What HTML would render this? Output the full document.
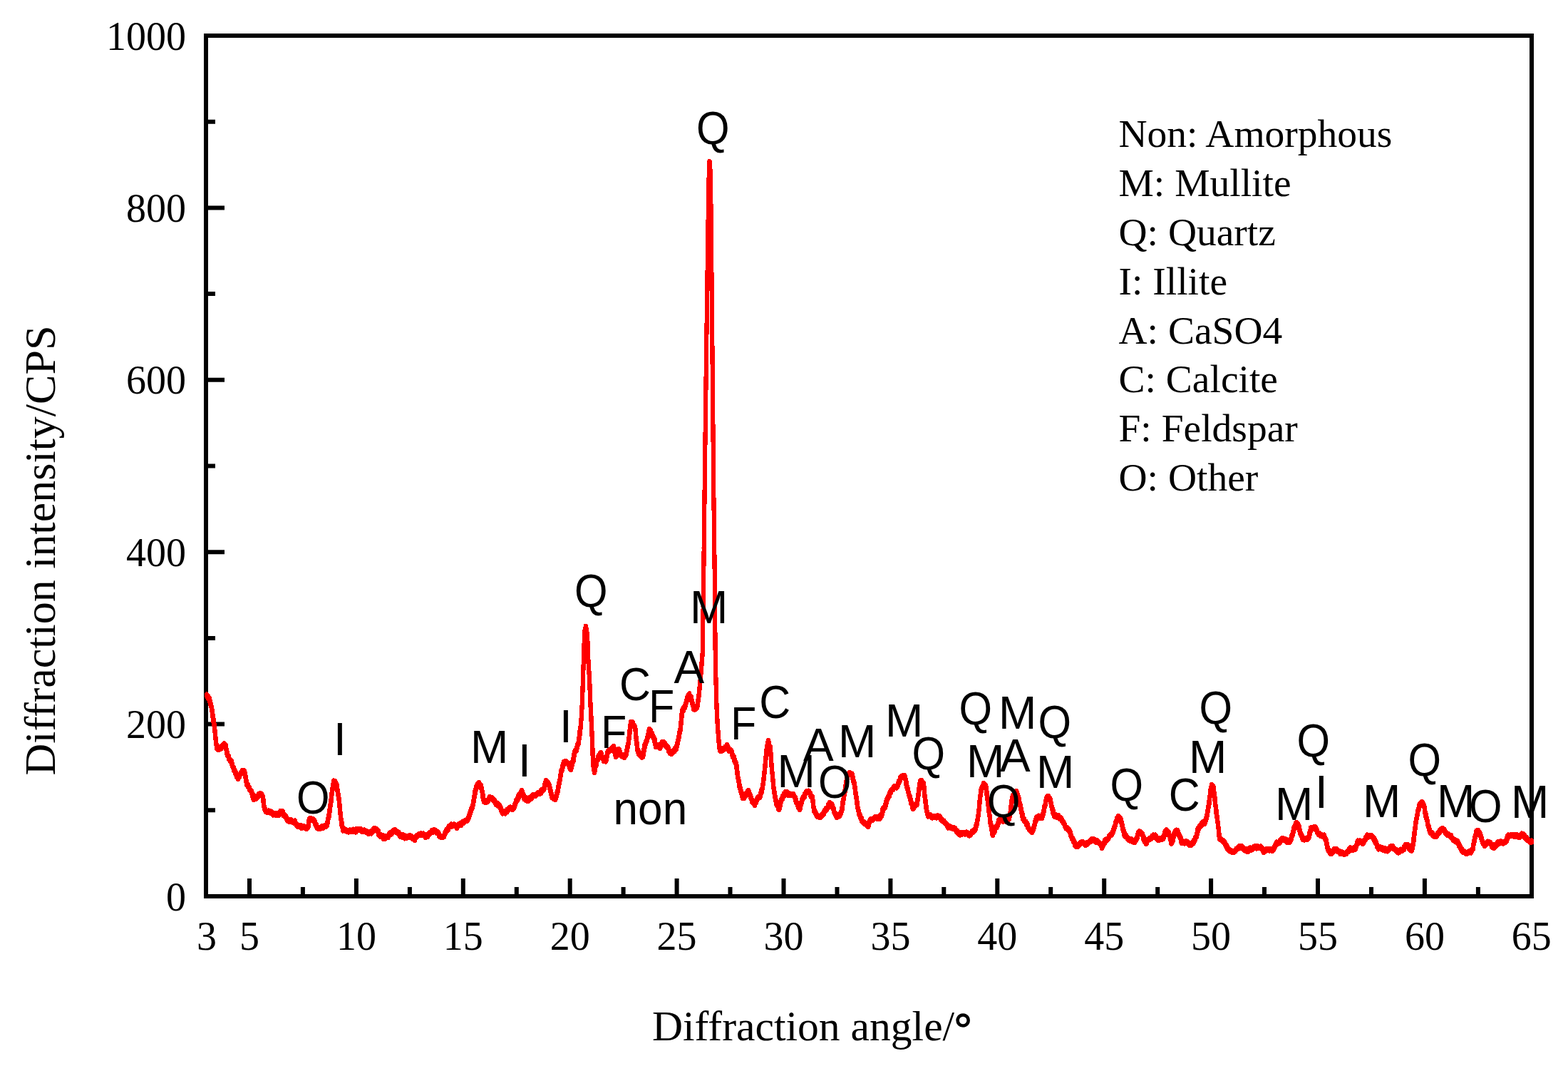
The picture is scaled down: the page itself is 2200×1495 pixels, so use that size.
<!DOCTYPE html>
<html><head><meta charset="utf-8"><title>XRD pattern</title>
<style>html,body{margin:0;padding:0;background:#fff;}svg{display:block;}</style></head>
<body><svg width="2200" height="1495" viewBox="0 0 2200 1495">
<rect x="0" y="0" width="2200" height="1495" fill="#fff"/>
<path d="M350.0 1257 V1232 M499.9 1257 V1232 M649.8 1257 V1232 M799.7 1257 V1232 M949.6 1257 V1232 M1099.5 1257 V1232 M1249.4 1257 V1232 M1399.3 1257 V1232 M1549.2 1257 V1232 M1699.1 1257 V1232 M1849.0 1257 V1232 M1998.9 1257 V1232 M424.9 1257 V1244 M574.9 1257 V1244 M724.8 1257 V1244 M874.6 1257 V1244 M1024.5 1257 V1244 M1174.5 1257 V1244 M1324.3 1257 V1244 M1474.2 1257 V1244 M1624.2 1257 V1244 M1774.0 1257 V1244 M1924.0 1257 V1244 M2073.9 1257 V1244 M289 1015.6 H315 M289 774.2 H315 M289 532.8 H315 M289 291.4 H315 M289 1136.3 H302 M289 894.9 H302 M289 653.5 H302 M289 412.1 H302 M289 170.7 H302" stroke="#000" stroke-width="6" fill="none"/>
<rect x="289" y="50" width="1860" height="1207" stroke="#000" stroke-width="6" fill="none"/>
<text x="290.0" y="1332" text-anchor="middle" style="font-family:'Liberation Serif','Times New Roman',serif;font-size:56px">3</text>
<text x="350.0" y="1332" text-anchor="middle" style="font-family:'Liberation Serif','Times New Roman',serif;font-size:56px">5</text>
<text x="499.9" y="1332" text-anchor="middle" style="font-family:'Liberation Serif','Times New Roman',serif;font-size:56px">10</text>
<text x="649.8" y="1332" text-anchor="middle" style="font-family:'Liberation Serif','Times New Roman',serif;font-size:56px">15</text>
<text x="799.7" y="1332" text-anchor="middle" style="font-family:'Liberation Serif','Times New Roman',serif;font-size:56px">20</text>
<text x="949.6" y="1332" text-anchor="middle" style="font-family:'Liberation Serif','Times New Roman',serif;font-size:56px">25</text>
<text x="1099.5" y="1332" text-anchor="middle" style="font-family:'Liberation Serif','Times New Roman',serif;font-size:56px">30</text>
<text x="1249.4" y="1332" text-anchor="middle" style="font-family:'Liberation Serif','Times New Roman',serif;font-size:56px">35</text>
<text x="1399.3" y="1332" text-anchor="middle" style="font-family:'Liberation Serif','Times New Roman',serif;font-size:56px">40</text>
<text x="1549.2" y="1332" text-anchor="middle" style="font-family:'Liberation Serif','Times New Roman',serif;font-size:56px">45</text>
<text x="1699.1" y="1332" text-anchor="middle" style="font-family:'Liberation Serif','Times New Roman',serif;font-size:56px">50</text>
<text x="1849.0" y="1332" text-anchor="middle" style="font-family:'Liberation Serif','Times New Roman',serif;font-size:56px">55</text>
<text x="1998.9" y="1332" text-anchor="middle" style="font-family:'Liberation Serif','Times New Roman',serif;font-size:56px">60</text>
<text x="2148.8" y="1332" text-anchor="middle" style="font-family:'Liberation Serif','Times New Roman',serif;font-size:56px">65</text>
<text x="261" y="1276.5" text-anchor="end" style="font-family:'Liberation Serif','Times New Roman',serif;font-size:56px">0</text>
<text x="261" y="1035.1" text-anchor="end" style="font-family:'Liberation Serif','Times New Roman',serif;font-size:56px">200</text>
<text x="261" y="793.7" text-anchor="end" style="font-family:'Liberation Serif','Times New Roman',serif;font-size:56px">400</text>
<text x="261" y="552.3" text-anchor="end" style="font-family:'Liberation Serif','Times New Roman',serif;font-size:56px">600</text>
<text x="261" y="310.9" text-anchor="end" style="font-family:'Liberation Serif','Times New Roman',serif;font-size:56px">800</text>
<text x="261" y="69.5" text-anchor="end" style="font-family:'Liberation Serif','Times New Roman',serif;font-size:56px">1000</text>
<text x="915" y="1459" style="font-family:'Liberation Serif','Times New Roman',serif;font-size:59.6px">Diffraction angle/<tspan dy="2.5" stroke="#000" stroke-width="1.6">°</tspan></text>
<text transform="translate(77 1087.5) rotate(-90)" x="0" y="0" style="font-family:'Liberation Serif','Times New Roman',serif;font-size:62px">Diffraction intensity/CPS</text>
<text x="1569.5" y="206.3" style="font-family:'Liberation Serif','Times New Roman',serif;font-size:55.5px">Non: Amorphous</text>
<text x="1569.5" y="275.1" style="font-family:'Liberation Serif','Times New Roman',serif;font-size:55.5px">M: Mullite</text>
<text x="1569.5" y="343.9" style="font-family:'Liberation Serif','Times New Roman',serif;font-size:55.5px">Q: Quartz</text>
<text x="1569.5" y="412.7" style="font-family:'Liberation Serif','Times New Roman',serif;font-size:55.5px">I: Illite</text>
<text x="1569.5" y="481.5" style="font-family:'Liberation Serif','Times New Roman',serif;font-size:55.5px">A: CaSO4</text>
<text x="1569.5" y="550.3" style="font-family:'Liberation Serif','Times New Roman',serif;font-size:55.5px">C: Calcite</text>
<text x="1569.5" y="619.1" style="font-family:'Liberation Serif','Times New Roman',serif;font-size:55.5px">F: Feldspar</text>
<text x="1569.5" y="687.9" style="font-family:'Liberation Serif','Times New Roman',serif;font-size:55.5px">O: Other</text>
<g fill="none" stroke="#f00" stroke-width="6.2" shape-rendering="crispEdges" stroke-linejoin="round" stroke-linecap="round"><path id="crv" d="M290.0 975.0 L291.0 976.3 L292.1 977.5 L292.2 979.3 L293.8 980.3 L294.0 982.0 L294.5 983.6 L295.1 985.1 L295.2 986.8 L295.9 988.3 L296.0 990.0 L296.7 991.5 L297.1 993.1 L297.3 994.8 L297.4 996.5 L298.0 998.0 L298.3 999.7 L298.3 1001.3 L298.4 1003.0 L298.6 1004.7 L298.9 1006.3 L299.0 1008.0 L299.5 1009.5 L299.3 1011.0 L299.9 1012.5 L300.2 1014.0 L300.4 1015.5 L300.6 1017.0 L300.6 1018.5 L301.0 1020.0 L301.1 1021.5 L301.2 1023.0 L301.4 1024.5 L301.5 1026.0 L301.7 1027.5 L301.9 1029.0 L302.0 1030.5 L302.0 1032.0 L302.2 1033.6 L302.5 1035.2 L302.6 1036.8 L302.8 1038.4 L303.1 1040.0 L303.1 1041.6 L303.3 1043.2 L303.7 1044.8 L303.8 1046.4 L304.0 1048.0 L304.9 1050.0 L307.0 1050.5 L308.0 1048.9 L310.4 1049.0 L311.0 1047.0 L312.1 1045.8 L313.8 1045.4 L314.6 1043.9 L315.4 1045.3 L316.8 1046.3 L317.0 1048.0 L317.2 1049.7 L317.6 1051.3 L317.8 1053.0 L318.4 1054.6 L318.5 1056.4 L319.0 1058.0 L319.7 1059.7 L320.7 1061.2 L321.0 1063.0 L321.6 1064.7 L323.0 1066.0 L323.5 1067.6 L325.1 1068.7 L325.0 1070.6 L326.0 1072.0 L326.1 1073.9 L326.7 1075.6 L327.7 1077.2 L328.0 1079.0 L328.4 1080.5 L329.8 1081.6 L329.8 1083.2 L330.8 1084.4 L331.0 1086.0 L332.3 1087.1 L332.1 1088.9 L333.7 1089.9 L334.0 1091.5 L334.6 1090.0 L336.0 1089.0 L335.7 1087.1 L337.0 1086.0 L338.1 1084.5 L339.6 1083.4 L340.0 1081.5 L341.3 1082.9 L343.0 1082.0 L343.4 1083.7 L343.8 1085.3 L343.8 1087.0 L344.1 1088.7 L344.9 1090.3 L345.0 1092.0 L345.3 1093.6 L345.5 1095.2 L345.6 1096.8 L345.8 1098.4 L346.0 1100.0 L347.8 1100.8 L348.1 1102.6 L349.0 1104.0 L349.9 1105.6 L350.3 1107.4 L351.7 1108.7 L353.0 1110.0 L353.3 1111.5 L353.7 1113.0 L354.7 1114.4 L354.4 1116.1 L354.9 1117.6 L355.3 1119.1 L356.0 1120.5 L357.9 1119.4 L360.0 1119.0 L360.6 1117.1 L362.7 1116.4 L363.1 1114.2 L365.0 1113.5 L366.5 1114.2 L367.5 1115.3 L368.3 1116.6 L369.0 1118.0 L369.3 1119.5 L369.3 1121.0 L369.5 1122.5 L369.5 1124.0 L369.8 1125.5 L369.7 1127.0 L369.8 1128.5 L370.0 1130.0 L370.7 1131.4 L371.1 1133.0 L371.6 1134.5 L372.0 1136.0 L373.3 1137.6 L374.8 1138.7 L377.0 1138.0 L378.5 1139.0 L380.6 1139.1 L382.1 1140.1 L383.0 1142.0 L385.1 1141.5 L387.0 1142.5 L388.3 1141.2 L390.0 1142.0 L391.9 1142.1 L392.5 1140.3 L393.2 1138.6 L395.0 1138.5 L396.8 1139.0 L397.0 1140.8 L397.2 1142.6 L399.0 1143.0 L399.5 1144.6 L400.9 1145.6 L401.6 1147.1 L402.7 1148.3 L403.0 1150.0 L404.5 1150.4 L405.9 1151.4 L407.6 1150.2 L409.0 1151.0 L410.5 1152.3 L412.0 1153.2 L414.0 1152.0 L414.4 1153.7 L415.1 1155.2 L415.9 1156.7 L417.0 1158.0 L418.5 1158.7 L420.2 1158.9 L422.0 1158.6 L423.0 1160.5 L424.9 1159.6 L427.0 1160.0 L428.7 1160.6 L430.3 1161.5 L432.0 1160.0 L432.5 1158.5 L432.8 1156.9 L433.1 1155.3 L433.1 1153.7 L433.3 1152.1 L433.6 1150.5 L434.0 1149.0 L435.8 1148.2 L437.3 1149.7 L439.0 1149.5 L441.0 1151.0 L441.6 1152.6 L442.0 1154.3 L442.5 1155.9 L443.8 1157.2 L444.0 1159.0 L445.1 1160.9 L447.0 1161.4 L449.0 1161.5 L450.6 1160.9 L452.1 1159.6 L454.0 1160.0 L455.8 1158.6 L458.0 1158.0 L459.0 1156.7 L458.9 1155.0 L459.4 1153.5 L460.0 1152.0 L460.4 1150.5 L460.3 1149.0 L460.6 1147.5 L460.8 1146.0 L461.5 1144.5 L461.7 1143.0 L461.6 1141.5 L462.0 1140.0 L462.4 1138.5 L462.5 1136.9 L462.6 1135.3 L462.9 1133.8 L462.9 1132.2 L463.1 1130.6 L463.8 1129.1 L463.8 1127.6 L464.0 1126.0 L464.4 1124.4 L464.4 1122.8 L464.7 1121.2 L464.9 1119.6 L464.9 1118.0 L465.1 1116.4 L465.3 1114.8 L465.5 1113.2 L465.8 1111.6 L466.0 1110.0 L466.2 1108.4 L466.3 1106.9 L466.9 1105.4 L466.8 1103.8 L467.1 1102.2 L467.4 1100.7 L467.7 1099.1 L467.7 1097.6 L468.0 1096.0 L470.0 1096.5 L471.0 1098.3 L472.0 1100.0 L472.5 1101.5 L472.5 1103.0 L472.9 1104.5 L473.3 1106.0 L473.1 1107.5 L473.7 1109.0 L473.8 1110.5 L474.0 1112.0 L474.2 1113.5 L474.6 1115.0 L474.7 1116.5 L475.0 1118.0 L475.1 1119.5 L475.7 1121.0 L475.7 1122.5 L476.0 1124.0 L476.2 1125.5 L476.2 1127.0 L476.4 1128.5 L476.5 1130.0 L476.6 1131.5 L476.6 1133.0 L476.9 1134.5 L477.0 1136.0 L477.2 1137.6 L477.4 1139.2 L477.5 1140.8 L477.8 1142.4 L478.0 1144.0 L478.2 1145.6 L478.2 1147.2 L478.5 1148.8 L478.7 1150.4 L479.0 1152.0 L479.4 1153.5 L479.5 1155.0 L479.5 1156.5 L479.8 1158.0 L480.4 1159.5 L480.7 1161.0 L480.8 1162.5 L481.0 1164.0 L483.1 1163.4 L485.0 1164.5 L486.5 1165.2 L487.9 1165.7 L489.4 1166.1 L491.0 1165.0 L492.4 1165.8 L494.0 1165.8 L495.6 1164.2 L497.0 1165.5 L499.2 1166.1 L500.0 1163.4 L502.0 1163.5 L504.0 1163.2 L506.0 1163.5 L507.2 1165.4 L509.0 1165.5 L511.0 1165.0 L512.6 1165.7 L514.0 1166.8 L515.7 1167.2 L517.0 1168.5 L518.9 1167.7 L521.0 1168.0 L521.3 1166.1 L523.1 1165.3 L523.9 1163.8 L525.0 1162.5 L527.2 1162.8 L529.0 1164.0 L529.8 1165.6 L531.2 1166.9 L530.8 1169.1 L531.8 1170.6 L533.0 1172.0 L534.9 1171.7 L536.1 1172.8 L537.8 1172.9 L538.2 1175.5 L540.0 1175.5 L540.7 1173.8 L542.4 1173.6 L544.4 1173.8 L545.0 1172.0 L545.8 1170.4 L546.8 1169.0 L549.3 1169.1 L549.9 1167.3 L551.0 1166.0 L552.8 1164.9 L554.5 1164.9 L556.0 1166.5 L557.5 1167.5 L559.3 1168.1 L560.0 1170.0 L561.0 1171.2 L562.0 1172.4 L564.4 1171.7 L565.0 1173.5 L566.6 1172.2 L567.9 1174.9 L569.5 1173.7 L571.0 1174.0 L573.1 1173.4 L575.0 1172.5 L576.7 1173.2 L578.3 1174.2 L579.0 1176.0 L580.8 1176.1 L582.0 1177.5 L582.5 1175.8 L583.3 1174.3 L584.5 1173.0 L586.0 1172.0 L587.3 1170.8 L589.0 1170.5 L590.6 1169.7 L592.3 1170.2 L594.0 1170.0 L595.2 1171.0 L596.8 1171.7 L597.0 1173.5 L597.6 1171.6 L600.0 1172.4 L601.0 1171.0 L601.8 1169.2 L603.6 1168.3 L605.0 1167.0 L605.8 1165.3 L608.1 1166.1 L609.0 1164.5 L610.7 1165.3 L611.9 1167.0 L614.0 1167.0 L615.0 1168.5 L615.7 1170.2 L616.3 1172.0 L618.0 1173.0 L619.8 1173.9 L621.4 1173.3 L623.0 1172.5 L623.6 1170.8 L624.3 1169.2 L624.7 1167.4 L626.0 1166.0 L626.3 1164.2 L628.4 1163.6 L629.0 1162.0 L629.5 1160.3 L630.4 1159.0 L632.5 1158.7 L633.0 1157.0 L635.0 1157.5 L637.0 1157.0 L638.7 1157.7 L640.0 1159.0 L641.0 1160.5 L641.5 1158.9 L642.9 1158.2 L643.6 1156.8 L645.0 1156.0 L647.1 1156.5 L648.1 1154.6 L649.2 1153.1 L651.0 1153.0 L652.4 1151.6 L654.1 1150.7 L656.0 1150.0 L656.4 1148.5 L657.1 1147.1 L657.7 1145.7 L658.0 1144.2 L658.9 1142.9 L658.9 1141.2 L660.0 1140.0 L660.2 1138.2 L661.1 1136.8 L661.3 1135.0 L661.9 1133.4 L663.0 1132.0 L663.1 1130.5 L663.5 1129.0 L663.8 1127.5 L664.1 1126.0 L664.3 1124.5 L664.6 1123.0 L664.9 1121.5 L665.0 1120.0 L665.2 1118.4 L665.9 1116.9 L665.7 1115.2 L666.3 1113.6 L666.6 1112.0 L666.5 1110.4 L667.3 1108.8 L667.6 1107.2 L667.8 1105.6 L668.0 1104.0 L669.5 1103.0 L669.5 1100.9 L671.0 1099.9 L672.0 1098.5 L672.5 1100.1 L673.5 1101.2 L675.0 1102.0 L675.2 1103.5 L675.3 1105.0 L675.7 1106.5 L675.9 1108.0 L676.4 1109.5 L676.7 1111.0 L676.9 1112.5 L677.0 1114.0 L677.6 1115.6 L677.5 1117.4 L678.0 1119.0 L678.3 1120.7 L678.6 1122.3 L679.0 1124.0 L681.0 1124.0 L683.0 1124.0 L684.5 1123.0 L685.4 1121.5 L686.0 1119.9 L687.0 1118.5 L688.8 1119.7 L691.0 1120.0 L691.7 1121.7 L693.4 1122.8 L694.6 1124.1 L695.0 1126.0 L696.2 1127.5 L698.4 1127.3 L699.1 1129.5 L701.0 1130.0 L701.6 1131.4 L702.3 1132.8 L702.7 1134.3 L703.1 1135.8 L703.6 1137.3 L704.3 1138.6 L705.0 1140.0 L707.0 1138.6 L709.0 1140.0 L709.6 1138.5 L711.4 1137.9 L711.7 1136.1 L713.1 1135.3 L714.0 1134.0 L715.8 1132.8 L717.4 1133.6 L719.0 1134.5 L721.0 1132.5 L721.8 1131.0 L722.0 1129.3 L722.9 1127.8 L723.5 1126.2 L724.1 1124.7 L724.3 1123.0 L725.8 1121.7 L726.0 1120.0 L727.4 1119.1 L728.1 1117.7 L727.6 1115.7 L728.9 1114.7 L730.2 1113.7 L731.1 1112.5 L731.2 1110.8 L732.0 1109.5 L732.8 1110.8 L732.6 1112.5 L733.8 1113.6 L733.9 1115.2 L734.9 1116.5 L735.0 1118.0 L735.5 1119.9 L738.1 1119.6 L738.2 1121.9 L740.0 1122.5 L741.8 1122.4 L742.7 1121.1 L743.2 1119.2 L745.4 1119.7 L746.0 1118.0 L746.9 1116.0 L748.4 1115.2 L750.5 1115.7 L752.0 1115.0 L753.2 1113.7 L754.5 1112.6 L756.3 1112.4 L758.0 1112.0 L759.5 1111.2 L759.2 1108.9 L761.4 1108.7 L762.5 1107.6 L763.0 1106.0 L763.8 1104.6 L764.0 1103.1 L764.6 1101.6 L764.5 1099.9 L765.0 1098.5 L765.5 1097.0 L766.0 1095.5 L766.9 1096.8 L768.2 1097.6 L769.1 1098.8 L770.0 1100.0 L770.7 1101.5 L771.1 1103.1 L770.9 1104.9 L771.8 1106.4 L771.7 1108.1 L772.6 1109.6 L773.0 1111.2 L773.2 1112.8 L773.8 1114.3 L774.0 1116.0 L774.5 1117.9 L775.9 1118.9 L777.3 1119.9 L779.0 1120.5 L779.9 1119.2 L780.4 1117.8 L780.5 1116.3 L781.2 1114.9 L781.0 1113.3 L782.0 1112.0 L782.3 1110.4 L782.7 1108.8 L783.0 1107.2 L783.1 1105.6 L783.2 1104.0 L784.0 1102.4 L783.9 1100.8 L784.4 1099.2 L784.6 1097.6 L785.0 1096.0 L785.4 1094.4 L785.9 1092.9 L785.8 1091.2 L786.3 1089.6 L786.4 1088.0 L786.8 1086.4 L787.0 1084.8 L787.2 1083.2 L787.5 1081.6 L788.0 1080.0 L788.8 1078.6 L788.9 1077.0 L789.0 1075.4 L790.1 1074.1 L790.6 1072.6 L790.5 1071.0 L791.0 1069.5 L792.8 1068.7 L794.5 1068.5 L796.0 1070.0 L797.4 1071.1 L798.0 1072.6 L798.8 1074.1 L799.2 1075.7 L799.6 1077.4 L801.0 1078.5 L801.4 1077.0 L801.8 1075.5 L802.3 1074.0 L802.6 1072.5 L803.0 1071.0 L803.2 1069.4 L804.0 1068.0 L804.5 1066.5 L804.3 1065.0 L804.8 1063.5 L805.1 1062.0 L805.4 1060.5 L805.4 1059.0 L805.6 1057.5 L806.0 1056.0 L806.6 1054.4 L807.4 1053.0 L808.8 1051.8 L809.0 1050.0 L809.8 1048.4 L809.6 1046.5 L810.1 1044.9 L811.2 1043.4 L811.8 1041.8 L812.0 1040.0 L812.2 1038.4 L812.2 1036.8 L812.6 1035.2 L813.0 1033.6 L813.1 1032.0 L813.3 1030.4 L813.6 1028.8 L813.5 1027.2 L813.6 1025.6 L814.0 1024.0 L814.2 1022.5 L814.4 1020.9 L814.6 1019.4 L814.7 1017.9 L814.8 1016.3 L815.0 1014.8 L815.1 1013.2 L815.2 1011.7 L815.2 1010.1 L815.6 1008.6 L815.6 1007.1 L816.0 1005.6 L816.0 1004.0 L816.0 1002.5 L816.1 1001.0 L816.2 999.5 L816.3 998.0 L816.3 996.5 L816.3 995.0 L816.4 993.5 L816.5 992.0 L816.6 990.5 L816.6 989.0 L816.7 987.5 L816.8 986.0 L816.7 984.5 L816.8 983.0 L816.9 981.5 L817.0 980.0 L817.1 978.5 L817.1 977.0 L817.1 975.5 L817.2 974.0 L817.2 972.5 L817.3 971.0 L817.4 969.5 L817.4 968.0 L817.4 966.5 L817.5 965.0 L817.6 963.5 L817.6 962.0 L817.6 960.5 L817.7 959.0 L817.8 957.5 L817.8 956.0 L817.8 954.5 L817.9 953.0 L817.9 951.5 L818.0 950.0 L818.0 948.5 L818.1 947.0 L818.2 945.5 L818.2 944.0 L818.2 942.5 L818.4 941.0 L818.3 939.5 L818.4 938.0 L818.4 936.5 L818.5 935.0 L818.6 933.5 L818.6 932.0 L818.7 930.5 L818.7 929.0 L818.7 927.5 L818.8 926.0 L818.8 924.5 L818.9 923.0 L819.0 921.5 L819.0 920.0 L819.0 918.5 L819.1 917.0 L819.2 915.5 L819.2 914.0 L819.2 912.5 L819.3 911.0 L819.3 909.5 L819.4 908.0 L819.5 906.5 L819.5 905.0 L819.6 903.5 L819.6 902.0 L819.6 900.5 L819.7 899.0 L819.8 897.5 L819.8 896.0 L819.8 894.5 L819.9 893.0 L819.9 891.5 L820.0 890.0 L820.2 888.4 L820.3 886.9 L820.5 885.3 L820.8 883.8 L821.1 882.2 L821.6 880.7 L821.6 879.1 L821.6 880.7 L822.5 882.2 L822.7 883.8 L822.8 885.4 L823.1 886.9 L823.7 888.4 L824.0 890.0 L824.1 891.5 L824.1 893.0 L824.1 894.5 L824.2 896.0 L824.3 897.5 L824.3 899.0 L824.4 900.5 L824.4 902.0 L824.4 903.5 L824.5 905.0 L824.6 906.5 L824.6 908.0 L824.7 909.5 L824.7 911.0 L824.8 912.5 L824.8 914.0 L824.8 915.5 L824.9 917.0 L825.0 918.5 L825.0 920.0 L825.1 921.5 L825.3 923.0 L825.3 924.5 L825.4 926.0 L825.5 927.5 L825.7 929.0 L825.6 930.5 L825.7 932.0 L825.9 933.5 L825.9 935.0 L826.2 936.5 L826.3 938.0 L826.3 939.5 L826.3 941.0 L826.4 942.5 L826.6 944.0 L826.8 945.5 L826.8 947.0 L826.9 948.5 L827.0 950.0 L827.1 951.5 L827.1 953.0 L827.1 954.5 L827.2 956.0 L827.2 957.5 L827.3 959.0 L827.4 960.5 L827.4 962.0 L827.5 963.5 L827.5 965.0 L827.6 966.5 L827.6 968.0 L827.6 969.5 L827.7 971.0 L827.8 972.5 L827.8 974.0 L827.8 975.5 L827.9 977.0 L827.9 978.5 L828.0 980.0 L828.0 981.5 L828.2 983.0 L828.3 984.5 L828.4 986.0 L828.4 987.5 L828.4 989.0 L828.6 990.5 L828.7 992.0 L828.7 993.5 L828.8 995.0 L828.9 996.5 L828.9 998.0 L829.0 999.5 L829.1 1001.0 L829.3 1002.5 L829.2 1004.0 L829.4 1005.5 L829.4 1007.0 L829.5 1008.5 L829.6 1010.0 L829.7 1011.5 L829.8 1013.0 L829.8 1014.5 L829.9 1016.0 L829.9 1017.5 L830.0 1019.0 L830.1 1020.5 L830.2 1022.0 L830.2 1023.5 L830.3 1025.0 L830.4 1026.5 L830.4 1028.0 L830.5 1029.5 L830.5 1031.0 L830.7 1032.5 L830.7 1034.0 L830.7 1035.5 L830.8 1037.0 L830.9 1038.5 L831.0 1040.0 L831.1 1041.5 L831.1 1043.0 L831.2 1044.5 L831.1 1046.0 L831.2 1047.5 L831.3 1049.0 L831.4 1050.5 L831.4 1052.0 L831.5 1053.5 L831.5 1055.0 L831.5 1056.5 L831.6 1058.0 L831.7 1059.5 L831.7 1061.0 L831.7 1062.5 L831.8 1064.0 L831.9 1065.5 L831.9 1067.0 L832.0 1068.5 L832.0 1070.0 L832.2 1071.6 L832.4 1073.1 L832.9 1074.7 L833.2 1076.2 L833.3 1077.8 L833.4 1079.4 L833.9 1080.9 L834.0 1082.5 L834.2 1080.9 L835.0 1079.4 L835.2 1077.8 L835.2 1076.2 L835.6 1074.6 L836.2 1073.1 L836.7 1071.6 L837.0 1070.0 L837.1 1068.2 L837.7 1066.6 L838.7 1065.1 L838.9 1063.3 L839.3 1061.6 L840.0 1060.0 L841.7 1059.4 L841.7 1057.4 L843.0 1056.5 L843.7 1057.9 L844.2 1059.3 L844.3 1060.9 L844.7 1062.4 L846.0 1063.6 L846.8 1064.9 L847.0 1066.5 L848.7 1065.8 L850.0 1067.0 L850.7 1065.4 L850.7 1063.7 L851.3 1062.2 L851.4 1060.5 L852.1 1058.9 L852.2 1057.2 L852.4 1055.6 L853.0 1054.0 L854.3 1053.1 L855.7 1052.3 L857.4 1051.8 L858.0 1050.0 L859.7 1049.0 L861.0 1047.5 L861.4 1049.1 L862.0 1050.7 L862.3 1052.3 L862.5 1054.0 L862.6 1055.7 L863.5 1057.2 L863.6 1058.9 L864.0 1060.5 L865.2 1059.2 L865.0 1057.3 L865.6 1055.8 L867.2 1054.7 L867.9 1053.3 L868.0 1051.5 L869.2 1052.7 L868.8 1054.6 L870.1 1055.7 L870.2 1057.4 L871.2 1058.7 L872.0 1060.0 L874.4 1059.8 L876.0 1061.5 L876.4 1059.9 L877.4 1058.7 L878.7 1057.6 L879.0 1056.0 L879.1 1054.4 L879.4 1052.8 L879.8 1051.2 L880.2 1049.6 L880.4 1048.0 L880.6 1046.4 L881.0 1044.8 L881.5 1043.2 L881.9 1041.6 L882.0 1040.0 L882.2 1038.4 L882.4 1036.9 L882.4 1035.3 L882.8 1033.8 L882.7 1032.2 L883.1 1030.7 L883.3 1029.1 L883.5 1027.5 L883.5 1026.0 L883.7 1024.4 L884.0 1022.9 L884.1 1021.3 L884.4 1019.7 L884.5 1018.2 L884.6 1016.6 L884.7 1015.0 L885.0 1013.5 L886.5 1013.7 L888.0 1014.0 L888.4 1015.7 L889.1 1017.2 L890.3 1018.5 L891.0 1020.0 L891.2 1021.5 L891.4 1023.1 L891.6 1024.6 L891.6 1026.2 L891.9 1027.7 L891.9 1029.2 L892.1 1030.8 L892.4 1032.3 L892.3 1033.9 L892.7 1035.4 L892.6 1036.9 L892.8 1038.5 L893.0 1040.0 L893.4 1041.5 L893.4 1043.1 L893.7 1044.7 L893.7 1046.3 L894.3 1047.8 L894.2 1049.4 L894.3 1050.9 L894.7 1052.5 L895.0 1054.0 L896.5 1055.2 L896.3 1057.5 L898.0 1058.5 L899.0 1060.0 L900.3 1061.5 L902.0 1060.5 L902.4 1059.0 L902.8 1057.5 L902.6 1056.0 L903.0 1054.5 L903.5 1053.0 L903.4 1051.5 L904.1 1050.0 L904.1 1048.5 L904.6 1047.0 L904.5 1045.5 L905.0 1044.0 L906.3 1042.8 L906.1 1040.8 L906.9 1039.3 L908.0 1038.0 L908.2 1036.4 L908.4 1034.7 L908.8 1033.1 L909.1 1031.5 L909.9 1030.0 L910.1 1028.4 L910.6 1026.8 L910.5 1025.1 L911.0 1023.5 L912.6 1024.6 L913.0 1026.5 L914.0 1028.0 L915.0 1029.5 L915.1 1031.4 L916.3 1032.8 L917.1 1034.5 L918.0 1036.0 L918.5 1037.5 L918.3 1039.1 L918.8 1040.5 L919.2 1042.0 L919.3 1043.5 L919.9 1045.0 L920.0 1046.5 L922.1 1046.2 L924.0 1045.5 L924.6 1047.3 L926.0 1048.5 L926.2 1046.9 L927.5 1045.8 L927.3 1044.1 L928.8 1043.1 L929.0 1041.5 L930.4 1042.2 L932.0 1042.0 L932.9 1043.6 L933.8 1045.2 L935.3 1046.3 L936.0 1048.0 L937.4 1049.2 L938.1 1050.8 L938.2 1052.6 L939.3 1054.0 L940.0 1055.5 L942.2 1056.5 L944.0 1055.0 L944.8 1053.3 L946.7 1052.7 L947.0 1050.5 L949.0 1050.0 L949.2 1048.4 L949.4 1046.8 L949.9 1045.3 L950.2 1043.7 L950.7 1042.2 L951.1 1040.7 L951.1 1039.1 L951.7 1037.6 L952.0 1036.0 L952.1 1034.4 L952.9 1032.8 L952.8 1031.2 L953.0 1029.6 L953.3 1028.0 L953.9 1026.4 L954.3 1024.8 L954.6 1023.2 L954.6 1021.6 L955.0 1020.0 L955.0 1018.5 L955.3 1016.9 L955.4 1015.4 L955.5 1013.9 L955.8 1012.3 L955.8 1010.8 L956.1 1009.3 L956.2 1007.7 L956.2 1006.2 L956.5 1004.7 L956.4 1003.1 L956.7 1001.6 L956.8 1000.0 L957.0 998.5 L957.2 996.8 L958.8 995.9 L958.6 993.9 L960.0 992.9 L961.2 991.7 L961.4 990.0 L961.6 988.3 L962.4 986.7 L962.7 985.0 L963.2 983.4 L963.8 981.7 L964.0 980.0 L964.6 978.3 L965.4 976.8 L965.9 975.0 L967.3 973.8 L967.6 975.5 L968.4 977.0 L969.9 978.2 L970.0 980.0 L970.2 981.6 L970.7 983.1 L970.9 984.7 L971.5 986.2 L972.0 987.7 L972.4 989.3 L972.7 990.8 L973.2 992.4 L973.2 994.0 L975.0 994.2 L976.4 993.0 L978.0 991.9 L978.5 990.0 L978.7 988.4 L978.9 986.8 L979.2 985.1 L979.4 983.5 L979.6 981.9 L979.8 980.3 L980.0 978.7 L980.3 977.0 L980.5 975.4 L980.7 973.8 L980.9 972.2 L981.0 970.6 L981.2 969.0 L981.3 967.4 L981.5 965.8 L981.7 964.2 L981.8 962.6 L982.0 961.0 L982.1 959.4 L982.3 957.8 L982.4 956.2 L982.6 954.7 L982.7 953.1 L982.8 951.6 L982.9 950.0 L983.1 948.5 L983.2 946.9 L983.3 945.3 L983.5 943.8 L983.6 942.2 L983.7 940.7 L983.8 939.1 L984.0 937.6 L984.1 936.0 L984.2 934.5 L984.3 933.0 L984.5 931.5 L984.6 930.0 L984.7 928.5 L984.8 927.0 L985.0 925.5 L985.1 924.0 L985.2 922.5 L985.3 921.0 L985.4 919.5 L985.6 918.0 L985.7 916.5 L985.8 915.0 L985.8 913.5 L985.8 911.9 L985.9 910.4 L985.9 908.9 L985.9 907.3 L985.9 905.8 L985.9 904.2 L985.9 902.7 L986.0 901.2 L986.0 899.6 L986.0 898.1 L986.0 896.6 L986.0 895.0 L986.0 893.5 L986.1 892.0 L986.1 890.4 L986.1 888.9 L986.1 887.4 L986.1 885.8 L986.2 884.3 L986.2 882.8 L986.2 881.2 L986.2 879.7 L986.2 878.1 L986.2 876.6 L986.3 875.1 L986.3 873.5 L986.3 872.0 L986.3 870.5 L986.3 869.0 L986.4 867.4 L986.4 865.9 L986.4 864.4 L986.4 862.9 L986.5 861.3 L986.5 859.8 L986.5 858.3 L986.5 856.8 L986.6 855.2 L986.6 853.7 L986.6 852.2 L986.6 850.7 L986.7 849.1 L986.7 847.6 L986.7 846.1 L986.7 844.6 L986.8 843.0 L986.8 841.5 L986.8 840.0 L986.8 838.5 L986.8 837.0 L986.9 835.4 L986.9 833.9 L986.9 832.4 L986.9 830.9 L986.9 829.4 L986.9 827.9 L987.0 826.3 L987.0 824.8 L987.0 823.3 L987.0 821.8 L987.0 820.3 L987.0 818.8 L987.1 817.2 L987.1 815.7 L987.1 814.2 L987.1 812.7 L987.1 811.2 L987.2 809.6 L987.2 808.1 L987.2 806.6 L987.2 805.1 L987.2 803.6 L987.2 802.1 L987.3 800.5 L987.3 799.0 L987.3 797.5 L987.3 796.0 L987.3 794.5 L987.4 792.9 L987.4 791.4 L987.4 789.9 L987.4 788.4 L987.4 786.9 L987.4 785.4 L987.5 783.8 L987.5 782.3 L987.5 780.8 L987.5 779.3 L987.5 777.8 L987.5 776.2 L987.6 774.7 L987.6 773.2 L987.6 771.7 L987.6 770.2 L987.6 768.7 L987.7 767.1 L987.7 765.6 L987.7 764.1 L987.7 762.6 L987.7 761.1 L987.7 759.6 L987.8 758.0 L987.8 756.5 L987.8 755.0 L987.8 753.5 L987.8 752.0 L987.9 750.5 L987.9 749.0 L987.9 747.5 L987.9 746.0 L987.9 744.5 L987.9 743.0 L988.0 741.5 L988.0 740.0 L988.0 738.5 L988.0 737.0 L988.0 735.5 L988.0 734.0 L988.1 732.5 L988.1 731.0 L988.1 729.5 L988.1 728.0 L988.1 726.5 L988.1 725.0 L988.2 723.5 L988.2 722.0 L988.2 720.5 L988.2 719.0 L988.2 717.5 L988.2 716.0 L988.3 714.5 L988.3 713.0 L988.3 711.5 L988.3 710.0 L988.3 708.5 L988.3 707.0 L988.4 705.5 L988.4 704.0 L988.4 702.5 L988.4 701.0 L988.4 699.5 L988.5 698.0 L988.5 696.5 L988.5 695.0 L988.5 693.5 L988.5 692.0 L988.5 690.5 L988.6 689.0 L988.6 687.5 L988.6 686.0 L988.6 684.5 L988.6 683.0 L988.6 681.5 L988.7 680.0 L988.7 678.5 L988.7 677.0 L988.7 675.5 L988.7 674.0 L988.7 672.5 L988.8 671.0 L988.8 669.5 L988.8 668.0 L988.8 666.5 L988.8 665.0 L988.8 663.5 L988.9 662.0 L988.9 660.5 L988.9 659.0 L988.9 657.5 L988.9 656.0 L988.9 654.5 L989.0 653.0 L989.0 651.5 L989.0 650.0 L989.0 648.5 L989.0 647.0 L989.1 645.5 L989.1 643.9 L989.1 642.4 L989.1 640.9 L989.1 639.4 L989.2 637.9 L989.2 636.4 L989.2 634.8 L989.2 633.3 L989.2 631.8 L989.3 630.3 L989.3 628.8 L989.3 627.3 L989.3 625.8 L989.3 624.2 L989.4 622.7 L989.4 621.2 L989.4 619.7 L989.4 618.2 L989.4 616.7 L989.5 615.2 L989.5 613.6 L989.5 612.1 L989.5 610.6 L989.5 609.1 L989.6 607.6 L989.6 606.1 L989.6 604.5 L989.6 603.0 L989.6 601.5 L989.6 600.0 L989.7 598.5 L989.7 597.0 L989.7 595.5 L989.7 593.9 L989.7 592.4 L989.8 590.9 L989.8 589.4 L989.8 587.9 L989.8 586.4 L989.8 584.8 L989.9 583.3 L989.9 581.8 L989.9 580.3 L989.9 578.8 L989.9 577.3 L990.0 575.8 L990.0 574.2 L990.0 572.7 L990.0 571.2 L990.0 569.7 L990.1 568.2 L990.1 566.7 L990.1 565.2 L990.1 563.6 L990.1 562.1 L990.2 560.6 L990.2 559.1 L990.2 557.6 L990.2 556.1 L990.2 554.5 L990.3 553.0 L990.3 551.5 L990.3 550.0 L990.3 548.5 L990.3 547.0 L990.4 545.4 L990.4 543.9 L990.4 542.4 L990.4 540.9 L990.4 539.3 L990.5 537.8 L990.5 536.3 L990.5 534.8 L990.5 533.3 L990.5 531.7 L990.6 530.2 L990.6 528.7 L990.6 527.2 L990.6 525.7 L990.6 524.1 L990.7 522.6 L990.7 521.1 L990.7 519.6 L990.7 518.0 L990.7 516.5 L990.8 515.0 L990.8 513.5 L990.8 512.0 L990.8 510.4 L990.8 508.9 L990.8 507.4 L990.9 505.9 L990.9 504.3 L990.9 502.8 L990.9 501.3 L990.9 499.8 L991.0 498.3 L991.0 496.7 L991.0 495.2 L991.0 493.7 L991.0 492.2 L991.1 490.7 L991.1 489.1 L991.1 487.6 L991.1 486.1 L991.1 484.6 L991.2 483.0 L991.2 481.5 L991.2 480.0 L991.2 478.5 L991.2 477.0 L991.3 475.5 L991.3 474.0 L991.3 472.5 L991.3 470.9 L991.3 469.4 L991.4 467.9 L991.4 466.4 L991.4 464.9 L991.4 463.4 L991.4 461.9 L991.5 460.4 L991.5 458.9 L991.5 457.4 L991.5 455.8 L991.6 454.3 L991.6 452.8 L991.6 451.3 L991.6 449.8 L991.6 448.3 L991.7 446.8 L991.7 445.3 L991.7 443.8 L991.7 442.3 L991.7 440.8 L991.8 439.2 L991.8 437.7 L991.8 436.2 L991.8 434.7 L991.8 433.2 L991.9 431.7 L991.9 430.2 L991.9 428.7 L991.9 427.2 L991.9 425.7 L992.0 424.2 L992.0 422.6 L992.0 421.1 L992.0 419.6 L992.1 418.1 L992.1 416.6 L992.1 415.1 L992.1 413.6 L992.1 412.1 L992.2 410.6 L992.2 409.1 L992.2 407.5 L992.2 406.0 L992.2 404.5 L992.3 403.0 L992.3 401.5 L992.3 400.0 L992.3 398.5 L992.3 397.0 L992.4 395.5 L992.4 394.0 L992.4 392.5 L992.4 390.9 L992.4 389.4 L992.5 387.9 L992.5 386.4 L992.5 384.9 L992.5 383.4 L992.5 381.9 L992.6 380.4 L992.6 378.9 L992.6 377.4 L992.6 375.8 L992.7 374.3 L992.7 372.8 L992.7 371.3 L992.7 369.8 L992.7 368.3 L992.8 366.8 L992.8 365.3 L992.8 363.8 L992.8 362.3 L992.8 360.8 L992.9 359.2 L992.9 357.7 L992.9 356.2 L992.9 354.7 L992.9 353.2 L993.0 351.7 L993.0 350.2 L993.0 348.7 L993.0 347.2 L993.0 345.7 L993.1 344.2 L993.1 342.6 L993.1 341.1 L993.1 339.6 L993.2 338.1 L993.2 336.6 L993.2 335.1 L993.2 333.6 L993.2 332.1 L993.3 330.6 L993.3 329.1 L993.3 327.5 L993.3 326.0 L993.3 324.5 L993.4 323.0 L993.4 321.5 L993.4 320.0 L993.4 318.5 L993.4 317.0 L993.5 315.5 L993.5 314.0 L993.5 312.5 L993.5 311.0 L993.6 309.5 L993.6 308.0 L993.6 306.5 L993.6 305.0 L993.6 303.5 L993.7 302.0 L993.7 300.5 L993.7 299.0 L993.7 297.5 L993.8 296.0 L993.8 294.5 L993.8 293.0 L993.8 291.5 L993.8 290.0 L993.9 288.5 L993.9 287.0 L993.9 285.5 L993.9 284.0 L994.0 282.5 L994.0 281.0 L994.0 279.5 L994.0 278.0 L994.1 276.5 L994.1 275.0 L994.1 273.5 L994.1 272.0 L994.1 270.5 L994.2 269.0 L994.2 267.5 L994.2 266.0 L994.2 264.5 L994.3 263.0 L994.3 261.5 L994.3 260.0 L994.3 258.4 L994.4 256.9 L994.4 255.3 L994.5 253.8 L994.5 252.2 L994.6 250.6 L994.6 249.1 L994.6 247.5 L994.7 245.9 L994.7 244.4 L994.8 242.8 L994.8 241.2 L994.9 239.7 L994.9 238.1 L995.0 236.6 L995.0 235.0 L995.1 233.5 L995.2 232.0 L995.3 230.5 L995.4 229.0 L995.5 227.5 L995.7 229.0 L995.8 230.5 L996.0 232.0 L996.1 233.5 L996.3 235.0 L996.3 236.6 L996.4 238.1 L996.4 239.7 L996.5 241.2 L996.5 242.8 L996.6 244.4 L996.6 245.9 L996.6 247.5 L996.7 249.1 L996.7 250.6 L996.8 252.2 L996.8 253.8 L996.9 255.3 L996.9 256.9 L997.0 258.4 L997.0 260.0 L997.0 261.5 L997.0 263.0 L997.1 264.5 L997.1 266.0 L997.1 267.5 L997.1 269.0 L997.1 270.5 L997.2 272.0 L997.2 273.5 L997.2 275.0 L997.2 276.5 L997.2 278.0 L997.3 279.5 L997.3 281.0 L997.3 282.5 L997.3 284.0 L997.3 285.5 L997.4 287.0 L997.4 288.5 L997.4 290.0 L997.4 291.5 L997.4 293.0 L997.5 294.5 L997.5 296.0 L997.5 297.5 L997.5 299.0 L997.5 300.5 L997.6 302.0 L997.6 303.5 L997.6 305.0 L997.6 306.5 L997.6 308.0 L997.7 309.5 L997.7 311.0 L997.7 312.5 L997.7 314.0 L997.7 315.5 L997.8 317.0 L997.8 318.5 L997.8 320.0 L997.8 321.5 L997.8 323.0 L997.8 324.5 L997.9 326.0 L997.9 327.5 L997.9 329.1 L997.9 330.6 L997.9 332.1 L997.9 333.6 L997.9 335.1 L997.9 336.6 L998.0 338.1 L998.0 339.6 L998.0 341.1 L998.0 342.6 L998.0 344.2 L998.0 345.7 L998.0 347.2 L998.1 348.7 L998.1 350.2 L998.1 351.7 L998.1 353.2 L998.1 354.7 L998.1 356.2 L998.1 357.7 L998.1 359.2 L998.2 360.8 L998.2 362.3 L998.2 363.8 L998.2 365.3 L998.2 366.8 L998.2 368.3 L998.2 369.8 L998.2 371.3 L998.3 372.8 L998.3 374.3 L998.3 375.8 L998.3 377.4 L998.3 378.9 L998.3 380.4 L998.3 381.9 L998.4 383.4 L998.4 384.9 L998.4 386.4 L998.4 387.9 L998.4 389.4 L998.4 390.9 L998.4 392.5 L998.4 394.0 L998.5 395.5 L998.5 397.0 L998.5 398.5 L998.5 400.0 L998.5 401.5 L998.5 403.0 L998.5 404.5 L998.6 406.0 L998.6 407.5 L998.6 409.1 L998.6 410.6 L998.6 412.1 L998.6 413.6 L998.7 415.1 L998.7 416.6 L998.7 418.1 L998.7 419.6 L998.7 421.1 L998.7 422.6 L998.7 424.2 L998.8 425.7 L998.8 427.2 L998.8 428.7 L998.8 430.2 L998.8 431.7 L998.8 433.2 L998.8 434.7 L998.9 436.2 L998.9 437.7 L998.9 439.2 L998.9 440.8 L998.9 442.3 L998.9 443.8 L999.0 445.3 L999.0 446.8 L999.0 448.3 L999.0 449.8 L999.0 451.3 L999.0 452.8 L999.0 454.3 L999.1 455.8 L999.1 457.4 L999.1 458.9 L999.1 460.4 L999.1 461.9 L999.1 463.4 L999.1 464.9 L999.2 466.4 L999.2 467.9 L999.2 469.4 L999.2 470.9 L999.2 472.5 L999.2 474.0 L999.3 475.5 L999.3 477.0 L999.3 478.5 L999.3 480.0 L999.3 481.5 L999.3 483.0 L999.3 484.6 L999.4 486.1 L999.4 487.6 L999.4 489.1 L999.4 490.6 L999.4 492.2 L999.4 493.7 L999.4 495.2 L999.4 496.7 L999.5 498.2 L999.5 499.8 L999.5 501.3 L999.5 502.8 L999.5 504.3 L999.5 505.8 L999.5 507.3 L999.6 508.9 L999.6 510.4 L999.6 511.9 L999.6 513.4 L999.6 514.9 L999.6 516.5 L999.6 518.0 L999.6 519.5 L999.7 521.0 L999.7 522.5 L999.7 524.1 L999.7 525.6 L999.7 527.1 L999.7 528.6 L999.7 530.1 L999.8 531.7 L999.8 533.2 L999.8 534.7 L999.8 536.2 L999.8 537.7 L999.8 539.2 L999.8 540.8 L999.9 542.3 L999.9 543.8 L999.9 545.3 L999.9 546.8 L999.9 548.4 L999.9 549.9 L999.9 551.4 L999.9 552.9 L1000.0 554.4 L1000.0 556.0 L1000.0 557.5 L1000.0 559.0 L1000.0 560.5 L1000.0 562.0 L1000.0 563.5 L1000.1 565.0 L1000.1 566.6 L1000.1 568.1 L1000.1 569.6 L1000.1 571.1 L1000.1 572.6 L1000.1 574.1 L1000.2 575.6 L1000.2 577.1 L1000.2 578.7 L1000.2 580.2 L1000.2 581.7 L1000.2 583.2 L1000.2 584.7 L1000.3 586.2 L1000.3 587.7 L1000.3 589.2 L1000.3 590.8 L1000.3 592.3 L1000.3 593.8 L1000.3 595.3 L1000.4 596.8 L1000.4 598.3 L1000.4 599.8 L1000.4 601.3 L1000.4 602.8 L1000.4 604.4 L1000.4 605.9 L1000.5 607.4 L1000.5 608.9 L1000.5 610.4 L1000.5 611.9 L1000.5 613.4 L1000.5 614.9 L1000.5 616.5 L1000.6 618.0 L1000.6 619.5 L1000.6 621.0 L1000.6 622.5 L1000.6 624.0 L1000.6 625.5 L1000.6 627.0 L1000.7 628.5 L1000.7 630.1 L1000.7 631.6 L1000.7 633.1 L1000.7 634.6 L1000.7 636.1 L1000.7 637.6 L1000.8 639.1 L1000.8 640.6 L1000.8 642.2 L1000.8 643.7 L1000.8 645.2 L1000.8 646.7 L1000.8 648.2 L1000.9 649.7 L1000.9 651.2 L1000.9 652.7 L1000.9 654.2 L1000.9 655.8 L1000.9 657.3 L1000.9 658.8 L1001.0 660.3 L1001.0 661.8 L1001.0 663.3 L1001.0 664.8 L1001.0 666.3 L1001.0 667.9 L1001.0 669.4 L1001.1 670.9 L1001.1 672.4 L1001.1 673.9 L1001.1 675.4 L1001.1 676.9 L1001.1 678.4 L1001.1 680.0 L1001.2 681.5 L1001.2 683.0 L1001.2 684.5 L1001.2 686.0 L1001.2 687.5 L1001.2 689.0 L1001.3 690.5 L1001.3 692.0 L1001.3 693.5 L1001.3 695.0 L1001.3 696.5 L1001.3 698.0 L1001.4 699.5 L1001.4 701.1 L1001.4 702.6 L1001.4 704.1 L1001.4 705.6 L1001.5 707.1 L1001.5 708.6 L1001.5 710.1 L1001.5 711.6 L1001.5 713.1 L1001.6 714.6 L1001.6 716.1 L1001.6 717.6 L1001.6 719.1 L1001.6 720.6 L1001.6 722.1 L1001.7 723.6 L1001.7 725.1 L1001.7 726.6 L1001.7 728.2 L1001.7 729.7 L1001.8 731.2 L1001.8 732.7 L1001.8 734.2 L1001.8 735.7 L1001.8 737.2 L1001.9 738.7 L1001.9 740.2 L1001.9 741.7 L1001.9 743.2 L1001.9 744.7 L1001.9 746.2 L1002.0 747.7 L1002.0 749.2 L1002.0 750.7 L1002.0 752.2 L1002.0 753.7 L1002.1 755.3 L1002.1 756.8 L1002.1 758.3 L1002.1 759.8 L1002.1 761.3 L1002.2 762.8 L1002.2 764.3 L1002.2 765.8 L1002.2 767.3 L1002.2 768.8 L1002.2 770.3 L1002.3 771.8 L1002.3 773.3 L1002.3 774.8 L1002.3 776.3 L1002.3 777.8 L1002.4 779.3 L1002.4 780.8 L1002.4 782.4 L1002.4 783.9 L1002.4 785.4 L1002.5 786.9 L1002.5 788.4 L1002.5 789.9 L1002.5 791.4 L1002.5 792.9 L1002.5 794.4 L1002.6 795.9 L1002.6 797.4 L1002.6 798.9 L1002.6 800.4 L1002.6 801.9 L1002.7 803.4 L1002.7 804.9 L1002.7 806.4 L1002.7 807.9 L1002.7 809.5 L1002.8 811.0 L1002.8 812.5 L1002.8 814.0 L1002.8 815.5 L1002.8 817.0 L1002.8 818.5 L1002.9 820.0 L1002.9 821.5 L1002.9 823.0 L1002.9 824.5 L1003.0 826.1 L1003.0 827.6 L1003.0 829.2 L1003.0 830.7 L1003.1 832.3 L1003.1 833.8 L1003.1 835.4 L1003.1 836.9 L1003.2 838.5 L1003.2 840.0 L1003.2 841.5 L1003.2 843.1 L1003.2 844.6 L1003.2 846.1 L1003.2 847.6 L1003.2 849.2 L1003.2 850.7 L1003.2 852.2 L1003.2 853.8 L1003.2 855.3 L1003.2 856.8 L1003.2 858.3 L1003.2 859.9 L1003.2 861.4 L1003.3 862.9 L1003.3 864.5 L1003.3 866.0 L1003.3 867.5 L1003.3 869.0 L1003.3 870.6 L1003.3 872.1 L1003.3 873.6 L1003.3 875.2 L1003.3 876.7 L1003.3 878.2 L1003.3 879.7 L1003.3 881.3 L1003.3 882.8 L1003.3 884.3 L1003.3 885.9 L1003.3 887.4 L1003.4 888.9 L1003.4 890.4 L1003.4 892.0 L1003.4 893.5 L1003.4 895.0 L1003.4 896.6 L1003.4 898.1 L1003.5 899.6 L1003.5 901.1 L1003.5 902.7 L1003.5 904.2 L1003.5 905.7 L1003.5 907.3 L1003.5 908.8 L1003.6 910.3 L1003.6 911.8 L1003.6 913.4 L1003.6 914.9 L1003.6 916.4 L1003.6 918.0 L1003.6 919.5 L1003.7 921.0 L1003.7 922.5 L1003.7 924.1 L1003.7 925.6 L1003.7 927.1 L1003.8 928.7 L1003.8 930.2 L1003.9 931.7 L1003.9 933.3 L1003.9 934.8 L1004.0 936.3 L1004.0 937.9 L1004.1 939.4 L1004.1 940.9 L1004.1 942.5 L1004.2 944.0 L1004.2 945.5 L1004.2 947.0 L1004.3 948.6 L1004.3 950.1 L1004.4 951.6 L1004.4 953.2 L1004.4 954.7 L1004.5 956.2 L1004.5 957.8 L1004.6 959.3 L1004.6 960.8 L1004.6 962.4 L1004.7 963.9 L1004.7 965.4 L1004.8 967.0 L1004.8 968.5 L1004.8 970.0 L1004.9 971.6 L1004.9 973.1 L1005.0 974.7 L1005.0 976.2 L1005.1 977.8 L1005.1 979.4 L1005.2 980.9 L1005.2 982.5 L1005.3 984.0 L1005.3 985.5 L1005.4 987.1 L1005.4 988.6 L1005.5 990.2 L1005.5 991.8 L1005.6 993.3 L1005.6 994.9 L1005.7 996.4 L1005.8 998.0 L1005.8 999.5 L1005.9 1001.1 L1006.0 1002.7 L1006.1 1004.2 L1006.2 1005.8 L1006.3 1007.4 L1006.4 1009.0 L1006.4 1010.5 L1006.5 1012.1 L1006.6 1013.7 L1006.7 1015.3 L1006.8 1016.8 L1006.9 1018.4 L1007.0 1020.0 L1007.1 1021.5 L1007.2 1023.1 L1007.3 1024.6 L1007.5 1026.2 L1007.6 1027.7 L1007.7 1029.2 L1007.8 1030.8 L1007.9 1032.3 L1008.0 1033.8 L1008.2 1035.4 L1008.3 1036.9 L1008.4 1038.5 L1008.5 1040.0 L1008.7 1041.5 L1008.9 1043.0 L1009.1 1044.5 L1009.2 1046.0 L1009.4 1047.5 L1009.6 1049.0 L1009.8 1050.5 L1010.0 1052.0 L1012.0 1052.0 L1014.0 1052.0 L1014.8 1050.4 L1016.6 1049.6 L1017.7 1048.1 L1019.6 1047.5 L1020.0 1045.5 L1020.8 1047.3 L1021.7 1049.0 L1022.0 1051.0 L1022.9 1052.5 L1025.3 1052.2 L1026.0 1054.0 L1026.9 1055.3 L1027.1 1056.9 L1027.4 1058.4 L1028.2 1059.8 L1028.5 1061.3 L1029.9 1062.4 L1030.0 1064.0 L1030.3 1065.7 L1031.4 1067.1 L1031.6 1068.9 L1032.6 1070.3 L1033.0 1072.0 L1033.3 1073.6 L1033.6 1075.2 L1033.4 1076.8 L1033.8 1078.4 L1034.1 1080.0 L1034.2 1081.6 L1034.4 1083.2 L1034.8 1084.8 L1034.6 1086.4 L1035.0 1088.0 L1035.0 1089.6 L1035.6 1091.2 L1035.8 1092.8 L1036.3 1094.4 L1036.8 1096.0 L1036.6 1097.6 L1036.9 1099.2 L1037.5 1100.8 L1037.5 1102.4 L1038.0 1104.0 L1038.6 1105.4 L1038.7 1106.9 L1038.8 1108.5 L1039.6 1109.8 L1039.6 1111.4 L1040.6 1112.6 L1040.9 1114.1 L1041.0 1115.6 L1041.8 1117.0 L1042.0 1118.5 L1043.9 1118.5 L1044.6 1116.8 L1046.0 1116.0 L1046.4 1114.5 L1047.1 1113.1 L1048.2 1112.0 L1048.8 1110.5 L1050.0 1109.5 L1050.9 1110.9 L1051.3 1112.5 L1052.0 1114.0 L1052.5 1115.7 L1053.1 1117.3 L1053.6 1119.0 L1054.4 1120.6 L1054.8 1122.2 L1055.0 1124.0 L1056.2 1124.9 L1057.4 1125.9 L1058.5 1126.9 L1059.0 1128.5 L1059.3 1126.9 L1059.8 1125.4 L1061.2 1124.3 L1061.5 1122.7 L1061.9 1121.2 L1063.0 1120.0 L1063.9 1118.1 L1066.0 1118.0 L1066.7 1116.5 L1066.6 1114.8 L1067.3 1113.3 L1068.1 1111.9 L1068.5 1110.3 L1068.4 1108.6 L1069.0 1107.1 L1069.7 1105.6 L1070.0 1104.0 L1070.4 1102.5 L1070.3 1101.0 L1070.7 1099.5 L1070.8 1098.0 L1070.8 1096.5 L1071.1 1095.0 L1071.2 1093.5 L1071.6 1092.0 L1071.6 1090.5 L1072.0 1089.0 L1072.1 1087.5 L1072.2 1086.0 L1072.3 1084.5 L1072.7 1083.0 L1072.7 1081.5 L1073.0 1080.0 L1073.0 1078.4 L1073.3 1076.9 L1073.4 1075.3 L1073.5 1073.8 L1073.8 1072.2 L1073.8 1070.7 L1074.1 1069.1 L1074.2 1067.6 L1074.2 1066.0 L1074.4 1064.4 L1074.5 1062.9 L1074.6 1061.3 L1075.0 1059.8 L1075.0 1058.2 L1075.2 1056.7 L1075.2 1055.1 L1075.5 1053.6 L1075.6 1052.0 L1075.9 1050.4 L1076.1 1048.9 L1076.2 1047.3 L1076.7 1045.7 L1076.9 1044.2 L1077.2 1042.6 L1077.8 1041.1 L1078.0 1039.5 L1078.5 1041.0 L1078.5 1042.6 L1079.1 1044.1 L1079.4 1045.6 L1079.8 1047.1 L1080.9 1048.4 L1081.0 1050.0 L1081.2 1051.5 L1081.2 1053.0 L1081.3 1054.5 L1081.4 1056.0 L1081.5 1057.5 L1081.6 1059.0 L1081.7 1060.5 L1081.9 1062.0 L1081.8 1063.5 L1082.0 1065.0 L1082.1 1066.5 L1082.3 1068.0 L1082.4 1069.5 L1082.3 1071.0 L1082.5 1072.5 L1082.6 1074.0 L1082.8 1075.5 L1082.9 1077.0 L1083.0 1078.5 L1083.0 1080.0 L1083.2 1081.5 L1083.3 1083.0 L1083.6 1084.5 L1083.7 1086.0 L1083.7 1087.5 L1084.0 1089.0 L1083.9 1090.5 L1084.2 1092.0 L1084.3 1093.5 L1084.6 1095.0 L1084.7 1096.5 L1084.7 1098.0 L1085.0 1099.5 L1085.3 1101.0 L1085.1 1102.5 L1085.3 1104.0 L1085.6 1105.5 L1085.8 1107.0 L1085.7 1108.5 L1086.0 1110.0 L1086.6 1111.6 L1086.7 1113.2 L1087.1 1114.8 L1087.0 1116.4 L1087.7 1118.0 L1087.6 1119.6 L1088.0 1121.2 L1088.6 1122.8 L1088.6 1124.4 L1089.0 1126.0 L1089.4 1127.6 L1089.9 1129.0 L1091.3 1130.1 L1092.2 1131.4 L1091.8 1133.3 L1093.0 1134.5 L1093.8 1133.1 L1094.0 1131.6 L1094.4 1130.2 L1094.9 1128.8 L1095.1 1127.3 L1095.4 1125.8 L1095.4 1124.2 L1096.4 1122.9 L1096.5 1121.4 L1097.0 1120.0 L1098.4 1118.9 L1098.1 1116.9 L1099.9 1116.0 L1099.7 1114.0 L1101.5 1113.1 L1102.0 1111.5 L1103.8 1111.5 L1104.9 1112.9 L1106.0 1114.7 L1108.0 1114.0 L1109.5 1114.6 L1111.2 1114.3 L1112.9 1114.2 L1114.0 1116.0 L1114.7 1117.4 L1115.5 1118.7 L1115.9 1120.2 L1116.7 1121.6 L1116.6 1123.2 L1117.2 1124.6 L1118.0 1126.0 L1119.0 1127.3 L1119.3 1128.8 L1120.1 1130.2 L1120.1 1131.9 L1121.5 1133.0 L1122.0 1134.5 L1122.7 1133.1 L1122.5 1131.5 L1123.3 1130.2 L1123.5 1128.7 L1124.3 1127.3 L1124.4 1125.8 L1125.0 1124.4 L1124.9 1122.8 L1125.7 1121.5 L1126.0 1120.0 L1126.8 1118.6 L1128.1 1117.5 L1129.0 1116.2 L1128.9 1114.2 L1130.0 1113.0 L1130.9 1111.7 L1132.0 1110.5 L1134.5 1110.0 L1136.0 1112.0 L1137.2 1113.4 L1137.3 1115.3 L1138.5 1116.8 L1139.7 1118.2 L1140.0 1120.0 L1140.2 1121.6 L1140.5 1123.2 L1140.7 1124.8 L1141.0 1126.4 L1141.2 1128.0 L1141.0 1129.6 L1141.3 1131.2 L1141.8 1132.8 L1141.7 1134.4 L1142.0 1136.0 L1142.7 1137.6 L1144.1 1138.9 L1144.4 1140.8 L1145.3 1142.4 L1146.0 1144.0 L1148.0 1144.9 L1150.0 1145.5 L1152.0 1145.1 L1152.9 1143.4 L1154.0 1142.0 L1155.7 1141.4 L1156.2 1139.8 L1156.6 1138.1 L1157.6 1136.9 L1159.0 1136.0 L1159.1 1134.3 L1160.8 1133.5 L1161.6 1132.2 L1161.6 1130.4 L1162.2 1129.0 L1163.5 1128.0 L1164.0 1126.5 L1164.7 1128.4 L1167.2 1128.2 L1168.0 1130.0 L1168.2 1131.8 L1168.8 1133.4 L1169.7 1135.0 L1170.3 1136.6 L1170.2 1138.4 L1171.0 1140.0 L1171.9 1141.3 L1172.4 1142.8 L1173.4 1144.0 L1174.0 1145.5 L1175.7 1144.0 L1178.0 1144.0 L1178.7 1142.4 L1179.3 1140.9 L1180.1 1139.3 L1180.6 1137.7 L1181.0 1136.0 L1181.5 1134.5 L1181.5 1133.0 L1181.7 1131.5 L1181.8 1130.0 L1182.1 1128.5 L1182.5 1127.0 L1182.5 1125.5 L1183.0 1124.0 L1183.1 1122.5 L1183.5 1121.0 L1184.0 1119.5 L1183.8 1118.0 L1184.0 1116.5 L1184.5 1115.0 L1184.6 1113.5 L1185.0 1112.0 L1185.0 1110.5 L1185.7 1109.0 L1185.9 1107.5 L1186.1 1106.0 L1186.2 1104.5 L1186.4 1103.0 L1186.8 1101.5 L1187.0 1100.0 L1187.2 1098.5 L1187.4 1097.0 L1187.7 1095.5 L1188.1 1094.0 L1188.4 1092.5 L1188.7 1091.0 L1188.6 1089.5 L1189.0 1088.0 L1189.9 1086.8 L1191.1 1085.8 L1192.0 1084.5 L1193.8 1085.1 L1195.3 1086.1 L1196.0 1088.0 L1196.4 1089.5 L1196.4 1091.1 L1196.8 1092.6 L1197.2 1094.1 L1197.5 1095.6 L1197.9 1097.1 L1198.5 1098.5 L1199.0 1100.0 L1199.4 1101.6 L1199.3 1103.2 L1199.6 1104.8 L1199.9 1106.4 L1200.0 1108.0 L1200.0 1109.6 L1200.4 1111.2 L1200.5 1112.8 L1200.9 1114.4 L1201.0 1116.0 L1201.0 1117.6 L1201.7 1119.0 L1201.8 1120.6 L1201.8 1122.2 L1202.2 1123.7 L1202.6 1125.2 L1202.5 1126.8 L1202.9 1128.3 L1203.0 1129.9 L1203.3 1131.4 L1203.5 1132.9 L1203.7 1134.5 L1204.0 1136.0 L1204.8 1137.6 L1205.3 1139.2 L1205.2 1141.1 L1206.0 1142.7 L1206.8 1144.2 L1207.0 1146.0 L1208.1 1147.3 L1209.0 1148.7 L1209.2 1150.5 L1210.0 1152.0 L1211.3 1153.0 L1212.6 1154.1 L1214.0 1155.0 L1215.2 1156.3 L1217.3 1156.6 L1218.0 1158.5 L1218.6 1157.1 L1218.6 1155.5 L1219.4 1154.2 L1219.6 1152.7 L1220.4 1151.4 L1221.0 1150.0 L1222.7 1149.5 L1224.6 1149.3 L1226.0 1148.0 L1227.7 1146.3 L1230.0 1147.0 L1231.7 1147.7 L1233.3 1145.7 L1235.0 1147.0 L1235.5 1145.5 L1235.8 1144.0 L1237.3 1143.0 L1237.5 1141.4 L1238.0 1140.0 L1238.1 1138.5 L1238.6 1137.0 L1238.5 1135.5 L1239.0 1134.0 L1240.3 1132.7 L1242.0 1132.0 L1242.4 1130.3 L1242.5 1128.6 L1242.9 1127.0 L1243.5 1125.4 L1243.6 1123.7 L1244.0 1122.0 L1245.0 1120.5 L1246.1 1119.0 L1246.5 1117.2 L1247.7 1115.9 L1248.0 1114.0 L1248.3 1112.3 L1249.8 1111.2 L1250.0 1109.4 L1251.0 1108.0 L1252.3 1106.9 L1253.5 1105.7 L1254.0 1104.0 L1256.0 1103.6 L1258.0 1104.0 L1259.3 1102.8 L1259.8 1101.1 L1259.7 1099.2 L1261.0 1098.0 L1261.2 1096.2 L1262.3 1094.8 L1263.1 1093.3 L1263.0 1091.4 L1264.0 1090.0 L1265.7 1089.7 L1267.0 1088.5 L1268.9 1088.5 L1270.0 1090.0 L1270.1 1091.5 L1270.5 1093.0 L1271.0 1094.5 L1271.2 1096.0 L1271.5 1097.5 L1271.3 1099.0 L1271.9 1100.5 L1272.0 1102.0 L1272.7 1103.6 L1272.8 1105.4 L1273.6 1107.0 L1274.3 1108.6 L1274.2 1110.4 L1275.0 1112.0 L1275.2 1113.5 L1275.5 1115.1 L1275.8 1116.6 L1276.9 1117.9 L1277.0 1119.5 L1277.5 1120.9 L1277.6 1122.5 L1278.0 1124.0 L1278.2 1125.7 L1279.4 1127.0 L1279.8 1128.7 L1279.7 1130.4 L1280.3 1132.0 L1281.0 1133.5 L1282.0 1132.3 L1282.5 1130.7 L1284.0 1130.0 L1284.8 1128.5 L1286.6 1127.8 L1287.0 1126.0 L1287.0 1124.4 L1287.4 1122.9 L1287.5 1121.3 L1288.1 1119.8 L1288.2 1118.2 L1288.1 1116.6 L1288.4 1115.1 L1288.7 1113.5 L1289.0 1112.0 L1289.2 1110.4 L1289.4 1108.8 L1289.5 1107.2 L1289.6 1105.6 L1290.0 1104.0 L1290.1 1102.4 L1290.2 1100.8 L1290.6 1099.2 L1291.0 1097.6 L1291.0 1096.0 L1293.0 1095.5 L1293.7 1097.2 L1295.3 1098.3 L1296.0 1100.0 L1296.2 1101.5 L1296.4 1103.1 L1296.4 1104.6 L1296.6 1106.2 L1296.6 1107.7 L1296.8 1109.2 L1297.2 1110.8 L1297.2 1112.3 L1297.3 1113.9 L1297.4 1115.4 L1297.6 1116.9 L1297.8 1118.5 L1298.0 1120.0 L1298.3 1121.6 L1298.5 1123.2 L1298.5 1124.8 L1298.7 1126.4 L1298.8 1128.0 L1299.1 1129.6 L1299.5 1131.2 L1299.5 1132.8 L1299.7 1134.4 L1300.0 1136.0 L1300.3 1137.6 L1300.9 1139.2 L1301.2 1140.8 L1301.7 1142.4 L1302.0 1144.0 L1304.0 1143.5 L1306.0 1144.0 L1307.5 1146.1 L1310.0 1145.5 L1312.1 1145.3 L1314.0 1146.0 L1315.4 1144.9 L1317.0 1145.5 L1319.1 1146.1 L1320.0 1148.0 L1320.9 1150.1 L1323.0 1151.0 L1324.6 1152.4 L1326.0 1154.0 L1327.3 1155.3 L1328.5 1156.7 L1329.6 1158.1 L1330.0 1160.0 L1332.1 1159.6 L1334.0 1160.5 L1336.0 1161.2 L1338.0 1161.5 L1339.8 1162.4 L1341.0 1164.0 L1341.9 1165.4 L1343.6 1166.2 L1344.0 1168.0 L1345.5 1168.5 L1346.7 1170.0 L1348.6 1168.3 L1350.0 1169.0 L1352.0 1168.8 L1354.0 1169.0 L1356.2 1167.9 L1358.0 1169.5 L1359.8 1171.0 L1362.0 1170.0 L1362.9 1168.3 L1363.9 1166.6 L1366.0 1166.0 L1366.6 1164.4 L1368.3 1163.6 L1369.0 1162.0 L1369.3 1160.3 L1369.5 1158.6 L1370.1 1157.0 L1370.6 1155.4 L1370.8 1153.7 L1371.0 1152.0 L1371.4 1150.5 L1371.7 1149.0 L1371.8 1147.5 L1371.8 1146.0 L1372.4 1144.5 L1372.7 1143.0 L1372.7 1141.5 L1373.0 1140.0 L1373.1 1138.5 L1373.3 1136.9 L1373.6 1135.4 L1373.7 1133.9 L1373.9 1132.3 L1373.8 1130.8 L1374.0 1129.2 L1374.3 1127.7 L1374.4 1126.2 L1374.5 1124.6 L1374.7 1123.1 L1374.8 1121.5 L1375.0 1120.0 L1375.2 1118.4 L1375.2 1116.9 L1375.7 1115.3 L1375.8 1113.8 L1376.1 1112.2 L1376.4 1110.7 L1376.4 1109.1 L1376.8 1107.6 L1377.0 1106.0 L1378.3 1104.6 L1378.6 1102.8 L1379.8 1101.4 L1380.0 1099.5 L1381.3 1101.0 L1383.0 1102.0 L1383.3 1103.5 L1383.6 1105.1 L1383.8 1106.6 L1384.0 1108.2 L1384.0 1109.8 L1384.5 1111.3 L1384.4 1112.9 L1384.8 1114.4 L1385.0 1116.0 L1385.2 1117.6 L1385.4 1119.2 L1385.5 1120.8 L1385.8 1122.4 L1386.1 1124.0 L1386.1 1125.6 L1386.5 1127.2 L1386.5 1128.8 L1386.7 1130.4 L1387.0 1132.0 L1387.2 1133.5 L1387.2 1135.0 L1387.3 1136.5 L1387.7 1138.0 L1387.9 1139.5 L1388.0 1141.0 L1388.0 1142.5 L1388.5 1144.0 L1388.7 1145.5 L1388.7 1147.0 L1388.8 1148.5 L1389.0 1150.0 L1389.3 1151.5 L1389.2 1153.0 L1389.9 1154.5 L1389.9 1156.0 L1390.5 1157.5 L1390.7 1159.0 L1390.9 1160.5 L1391.0 1162.0 L1391.4 1163.7 L1391.8 1165.4 L1392.4 1167.0 L1392.3 1168.9 L1393.0 1170.5 L1393.3 1168.7 L1394.1 1167.1 L1395.5 1165.8 L1396.0 1164.0 L1396.3 1162.3 L1396.9 1160.7 L1398.6 1159.7 L1399.0 1158.0 L1400.1 1156.6 L1400.2 1154.8 L1400.9 1153.3 L1401.2 1151.5 L1402.0 1150.0 L1404.0 1149.9 L1406.0 1150.0 L1407.3 1151.5 L1409.0 1150.5 L1410.6 1151.0 L1412.0 1150.0 L1414.2 1149.4 L1416.0 1148.0 L1416.4 1146.5 L1416.3 1145.0 L1416.8 1143.5 L1417.0 1142.0 L1417.5 1140.5 L1417.7 1139.0 L1417.8 1137.5 L1418.0 1136.0 L1418.1 1134.4 L1418.3 1132.8 L1418.6 1131.2 L1418.7 1129.6 L1418.9 1128.0 L1419.3 1126.4 L1419.5 1124.8 L1419.5 1123.2 L1420.0 1121.6 L1420.0 1120.0 L1420.7 1118.4 L1420.8 1116.7 L1422.2 1115.3 L1422.8 1113.7 L1423.0 1112.0 L1424.8 1111.9 L1426.0 1110.5 L1426.8 1111.9 L1427.4 1113.4 L1427.8 1115.0 L1428.0 1116.7 L1429.0 1118.0 L1429.2 1119.6 L1429.6 1121.1 L1430.0 1122.7 L1430.3 1124.2 L1430.4 1125.8 L1431.2 1127.3 L1431.1 1128.9 L1431.8 1130.4 L1432.0 1132.0 L1432.1 1133.6 L1432.9 1135.1 L1432.8 1136.7 L1433.0 1138.3 L1433.8 1139.7 L1434.3 1141.3 L1434.6 1142.8 L1434.4 1144.5 L1435.0 1146.0 L1435.2 1147.8 L1436.9 1148.8 L1436.9 1150.7 L1438.0 1152.0 L1439.5 1153.2 L1439.7 1155.2 L1441.6 1156.1 L1442.0 1158.0 L1442.2 1159.8 L1443.2 1161.1 L1443.8 1162.7 L1445.0 1164.0 L1447.2 1164.4 L1448.0 1166.5 L1449.1 1165.0 L1449.7 1163.4 L1449.7 1161.4 L1451.0 1160.0 L1451.2 1158.3 L1451.6 1156.7 L1451.8 1155.0 L1452.0 1153.3 L1453.0 1151.7 L1453.0 1150.0 L1454.6 1149.1 L1454.4 1146.9 L1456.0 1146.0 L1457.7 1145.1 L1459.0 1146.5 L1460.5 1145.5 L1462.0 1146.5 L1462.2 1144.8 L1463.2 1143.3 L1463.5 1141.6 L1464.0 1140.0 L1464.2 1138.3 L1464.7 1136.7 L1465.3 1135.1 L1465.2 1133.3 L1465.5 1131.6 L1466.0 1130.0 L1466.7 1128.6 L1466.9 1127.0 L1467.0 1125.5 L1467.3 1123.9 L1467.7 1122.5 L1467.9 1120.9 L1468.3 1119.4 L1469.0 1118.0 L1471.0 1117.5 L1471.9 1118.8 L1473.0 1120.0 L1473.7 1121.4 L1473.6 1123.0 L1474.0 1124.5 L1474.5 1126.0 L1474.8 1127.5 L1475.1 1129.0 L1475.3 1130.6 L1476.0 1132.0 L1476.2 1133.5 L1476.8 1135.0 L1477.3 1136.5 L1477.6 1138.0 L1477.5 1139.6 L1478.3 1141.0 L1478.7 1142.5 L1479.0 1144.0 L1481.4 1143.7 L1483.0 1145.5 L1485.2 1144.8 L1486.2 1147.1 L1488.0 1147.5 L1489.4 1148.8 L1489.8 1150.6 L1491.0 1152.0 L1492.1 1153.3 L1492.9 1154.8 L1493.7 1156.3 L1494.0 1158.0 L1494.9 1159.8 L1496.0 1161.3 L1498.0 1162.0 L1498.7 1163.6 L1500.3 1164.5 L1501.0 1166.0 L1501.5 1167.5 L1502.2 1168.9 L1502.0 1170.7 L1503.0 1172.0 L1503.4 1173.7 L1504.0 1175.2 L1505.2 1176.5 L1506.0 1178.0 L1506.1 1179.8 L1507.5 1181.1 L1507.7 1182.9 L1508.1 1184.5 L1509.0 1186.0 L1510.4 1186.9 L1512.0 1186.5 L1513.4 1185.2 L1514.8 1184.0 L1516.0 1182.5 L1517.9 1181.7 L1520.0 1182.0 L1521.4 1183.3 L1523.0 1184.5 L1524.5 1183.9 L1525.3 1182.3 L1527.0 1182.0 L1528.3 1180.6 L1530.0 1179.7 L1531.0 1178.0 L1532.7 1178.1 L1534.4 1177.5 L1536.0 1178.5 L1537.6 1180.4 L1540.0 1180.0 L1541.3 1181.4 L1542.6 1182.7 L1544.0 1184.0 L1545.0 1185.4 L1545.7 1186.8 L1546.0 1188.5 L1546.7 1186.9 L1547.7 1185.3 L1548.6 1183.8 L1549.0 1182.0 L1550.6 1181.1 L1550.3 1178.8 L1552.0 1178.0 L1553.9 1177.2 L1555.2 1175.8 L1556.0 1174.0 L1556.8 1172.1 L1558.3 1170.9 L1560.0 1170.0 L1560.4 1168.3 L1561.5 1166.9 L1561.8 1165.2 L1562.4 1163.6 L1563.0 1162.0 L1563.4 1160.3 L1564.4 1158.8 L1564.7 1157.1 L1565.0 1155.3 L1565.5 1153.7 L1566.0 1152.0 L1567.1 1150.5 L1567.1 1148.6 L1568.5 1147.2 L1569.0 1145.5 L1570.5 1146.8 L1572.0 1148.0 L1572.5 1149.5 L1572.9 1151.0 L1573.2 1152.5 L1573.9 1153.9 L1574.1 1155.4 L1574.2 1157.0 L1575.0 1158.4 L1575.0 1160.0 L1575.2 1161.5 L1575.9 1163.0 L1576.3 1164.5 L1576.7 1166.0 L1576.6 1167.6 L1577.6 1168.9 L1577.5 1170.5 L1578.0 1172.0 L1579.9 1172.3 L1581.0 1174.0 L1581.9 1175.8 L1583.5 1176.9 L1585.0 1178.0 L1587.6 1177.8 L1589.0 1180.0 L1590.6 1179.8 L1592.0 1180.5 L1592.7 1178.8 L1593.9 1177.4 L1595.0 1176.0 L1595.6 1174.5 L1595.7 1172.8 L1596.1 1171.2 L1596.7 1169.6 L1597.0 1168.0 L1598.3 1166.8 L1600.0 1167.5 L1601.2 1169.2 L1603.0 1170.0 L1603.3 1171.6 L1603.9 1173.2 L1604.5 1174.7 L1604.4 1176.4 L1605.0 1178.0 L1606.0 1179.5 L1607.0 1181.0 L1608.0 1182.5 L1609.4 1181.3 L1609.3 1179.0 L1611.0 1178.0 L1612.4 1176.9 L1614.0 1176.0 L1615.9 1175.2 L1616.5 1173.2 L1618.0 1172.0 L1619.5 1173.2 L1621.0 1172.0 L1622.0 1173.7 L1623.0 1175.3 L1624.0 1177.0 L1626.1 1177.3 L1628.0 1176.5 L1630.0 1175.9 L1632.0 1176.0 L1632.7 1174.4 L1633.0 1172.7 L1633.7 1171.1 L1634.2 1169.4 L1634.2 1167.6 L1635.0 1166.0 L1636.5 1164.6 L1638.0 1166.0 L1639.3 1167.2 L1640.0 1168.7 L1639.9 1170.7 L1641.0 1172.0 L1641.7 1173.4 L1641.6 1175.0 L1642.0 1176.5 L1642.5 1178.0 L1643.2 1179.4 L1643.1 1181.0 L1643.6 1182.5 L1644.3 1180.9 L1645.3 1179.4 L1645.7 1177.7 L1646.0 1176.0 L1646.2 1174.2 L1646.9 1172.6 L1647.5 1171.0 L1647.6 1169.2 L1648.9 1167.8 L1649.0 1166.0 L1650.4 1165.0 L1652.0 1165.5 L1653.0 1167.0 L1653.1 1169.0 L1654.2 1170.4 L1655.0 1172.0 L1655.6 1173.6 L1656.4 1175.0 L1656.7 1176.7 L1656.7 1178.4 L1657.2 1180.0 L1658.0 1181.5 L1660.1 1181.0 L1662.0 1182.0 L1663.8 1180.3 L1666.0 1181.5 L1667.7 1182.8 L1669.0 1184.5 L1670.5 1184.2 L1672.0 1184.0 L1672.8 1182.6 L1674.5 1181.9 L1674.5 1179.9 L1676.0 1179.0 L1676.7 1177.6 L1676.7 1176.0 L1677.6 1174.7 L1678.4 1173.4 L1679.0 1172.0 L1679.4 1170.3 L1679.6 1168.6 L1679.9 1167.0 L1680.5 1165.4 L1680.5 1163.6 L1681.0 1162.0 L1682.5 1161.0 L1683.1 1159.4 L1684.0 1158.0 L1685.7 1157.4 L1685.9 1155.6 L1687.0 1154.5 L1688.5 1153.1 L1690.0 1154.5 L1690.8 1153.1 L1690.8 1151.3 L1692.0 1150.0 L1692.1 1148.3 L1692.7 1146.7 L1692.8 1145.0 L1693.6 1143.4 L1693.7 1141.7 L1694.0 1140.0 L1694.3 1138.3 L1694.8 1136.7 L1695.1 1135.0 L1695.2 1133.3 L1695.5 1131.6 L1696.0 1130.0 L1696.0 1128.5 L1696.5 1127.0 L1696.4 1125.5 L1696.5 1124.0 L1696.7 1122.5 L1697.1 1121.0 L1697.3 1119.5 L1697.3 1118.0 L1697.6 1116.5 L1697.6 1115.0 L1698.0 1113.5 L1698.0 1112.0 L1698.1 1110.5 L1698.3 1109.0 L1699.0 1107.5 L1698.9 1105.9 L1699.6 1104.5 L1699.6 1103.0 L1700.0 1101.5 L1701.1 1102.9 L1702.4 1104.0 L1702.6 1105.5 L1702.9 1107.0 L1702.8 1108.5 L1703.3 1110.0 L1703.3 1111.5 L1703.7 1113.0 L1703.7 1114.5 L1704.0 1116.0 L1704.2 1117.5 L1704.5 1119.0 L1704.5 1120.5 L1704.6 1122.0 L1704.9 1123.5 L1705.0 1125.0 L1705.3 1126.5 L1705.3 1128.0 L1705.4 1129.5 L1705.7 1131.0 L1705.8 1132.5 L1706.0 1134.0 L1706.1 1135.6 L1706.5 1137.2 L1706.4 1138.8 L1706.6 1140.4 L1706.8 1142.0 L1707.2 1143.6 L1707.5 1145.2 L1707.7 1146.8 L1707.7 1148.4 L1708.0 1150.0 L1708.0 1151.6 L1708.6 1153.2 L1708.6 1154.8 L1708.7 1156.4 L1709.0 1158.0 L1709.2 1159.6 L1709.6 1161.2 L1709.7 1162.8 L1709.9 1164.4 L1710.0 1166.0 L1710.1 1167.7 L1710.4 1169.3 L1710.4 1171.0 L1710.8 1172.7 L1710.8 1174.3 L1711.0 1176.0 L1712.7 1176.7 L1714.0 1178.0 L1715.3 1179.3 L1717.0 1180.0 L1718.0 1181.4 L1718.6 1183.0 L1719.6 1184.3 L1720.0 1186.0 L1721.5 1187.2 L1721.6 1189.3 L1723.3 1190.3 L1724.0 1192.0 L1725.9 1193.2 L1728.0 1194.0 L1730.0 1194.2 L1732.0 1194.0 L1733.5 1192.8 L1734.6 1191.3 L1736.0 1190.0 L1737.5 1189.4 L1738.5 1187.7 L1740.7 1188.5 L1742.0 1187.5 L1742.9 1188.7 L1744.2 1189.5 L1745.2 1190.7 L1746.0 1192.0 L1748.4 1191.8 L1750.0 1193.5 L1752.0 1193.1 L1752.4 1190.9 L1754.0 1190.0 L1756.0 1191.2 L1758.0 1190.0 L1759.1 1188.4 L1760.5 1187.6 L1762.9 1189.2 L1764.0 1187.5 L1765.5 1188.0 L1767.0 1188.5 L1768.9 1187.9 L1770.0 1189.5 L1771.5 1190.9 L1771.9 1192.9 L1773.0 1194.5 L1774.1 1193.4 L1775.2 1192.1 L1777.0 1192.0 L1779.0 1191.1 L1781.0 1192.0 L1783.1 1191.4 L1785.0 1192.5 L1786.0 1191.0 L1787.6 1189.9 L1788.0 1188.0 L1789.3 1186.8 L1789.5 1185.0 L1790.6 1183.7 L1791.0 1182.0 L1792.5 1182.6 L1794.0 1182.0 L1795.7 1181.1 L1796.1 1178.8 L1798.0 1178.0 L1799.5 1176.3 L1801.3 1177.3 L1803.0 1177.5 L1804.7 1178.1 L1805.1 1180.3 L1807.0 1180.5 L1808.5 1180.5 L1810.0 1180.0 L1810.7 1178.4 L1811.5 1176.9 L1812.0 1175.3 L1811.9 1173.4 L1813.0 1172.0 L1813.4 1170.5 L1814.1 1169.1 L1813.8 1167.4 L1814.6 1166.0 L1815.0 1164.5 L1815.5 1163.1 L1815.5 1161.5 L1816.0 1160.0 L1816.7 1158.6 L1818.1 1157.6 L1817.6 1155.5 L1819.0 1154.5 L1820.1 1155.5 L1821.1 1156.7 L1822.0 1158.0 L1822.5 1159.6 L1822.5 1161.4 L1822.9 1163.0 L1823.5 1164.6 L1823.8 1166.3 L1824.0 1168.0 L1825.1 1169.3 L1825.9 1170.8 L1826.5 1172.4 L1827.0 1174.0 L1827.7 1176.3 L1830.0 1177.0 L1832.0 1176.7 L1834.0 1176.5 L1835.4 1175.3 L1836.6 1173.9 L1837.0 1172.0 L1837.4 1170.4 L1837.5 1168.6 L1838.1 1167.0 L1838.5 1165.4 L1838.8 1163.7 L1839.0 1162.0 L1840.6 1162.4 L1842.0 1161.5 L1843.9 1160.2 L1846.0 1161.0 L1846.4 1162.5 L1846.9 1163.9 L1848.2 1165.0 L1848.0 1166.8 L1849.0 1168.0 L1849.9 1169.9 L1852.0 1170.0 L1853.0 1171.7 L1855.0 1172.0 L1856.5 1172.3 L1858.0 1172.0 L1858.3 1173.7 L1858.9 1175.3 L1859.4 1176.9 L1860.6 1178.3 L1861.0 1180.0 L1861.3 1181.7 L1861.4 1183.4 L1862.2 1185.0 L1862.0 1186.7 L1862.5 1188.4 L1863.0 1190.0 L1863.3 1191.7 L1864.8 1192.8 L1865.6 1194.3 L1866.0 1196.0 L1868.0 1196.5 L1869.0 1195.2 L1870.6 1194.5 L1871.3 1193.0 L1872.0 1191.5 L1874.0 1191.4 L1876.0 1192.0 L1877.0 1193.8 L1879.0 1194.5 L1880.1 1196.3 L1882.0 1195.5 L1884.1 1196.3 L1886.0 1197.5 L1887.6 1197.0 L1889.2 1196.6 L1890.0 1195.0 L1891.2 1194.0 L1892.5 1193.1 L1893.0 1191.5 L1894.7 1189.9 L1896.3 1191.5 L1898.0 1191.5 L1899.6 1189.7 L1902.0 1190.0 L1902.4 1188.3 L1903.1 1186.7 L1903.5 1185.0 L1903.9 1183.3 L1904.2 1181.6 L1905.0 1180.0 L1906.5 1181.1 L1908.0 1180.0 L1909.6 1180.4 L1911.3 1180.7 L1912.0 1182.5 L1913.3 1181.2 L1913.9 1179.4 L1915.0 1178.0 L1916.1 1176.7 L1916.0 1174.8 L1917.5 1173.6 L1918.0 1172.0 L1919.9 1173.3 L1922.0 1172.5 L1924.2 1172.6 L1926.0 1174.0 L1927.2 1175.4 L1928.4 1176.7 L1928.4 1178.9 L1930.0 1180.0 L1930.2 1181.8 L1931.3 1183.2 L1931.8 1184.8 L1931.9 1186.6 L1933.0 1188.0 L1934.1 1190.0 L1936.7 1188.5 L1938.0 1190.0 L1939.9 1189.7 L1941.0 1191.3 L1943.1 1190.5 L1944.0 1192.5 L1946.5 1193.0 L1948.0 1191.0 L1949.8 1190.4 L1950.3 1188.2 L1952.0 1187.5 L1953.9 1187.4 L1954.6 1189.3 L1956.0 1190.0 L1957.3 1191.4 L1958.9 1192.5 L1960.0 1194.0 L1962.0 1195.3 L1964.0 1194.0 L1965.1 1192.0 L1967.5 1192.3 L1969.0 1191.0 L1970.4 1190.0 L1970.3 1188.1 L1971.5 1187.0 L1972.0 1185.5 L1974.0 1185.4 L1976.0 1186.0 L1976.5 1187.6 L1977.0 1189.3 L1978.3 1190.5 L1979.0 1192.0 L1981.0 1192.0 L1981.1 1190.3 L1981.9 1188.7 L1982.1 1187.0 L1982.4 1185.3 L1982.6 1183.7 L1983.0 1182.0 L1983.3 1180.5 L1983.4 1179.0 L1983.6 1177.5 L1983.5 1176.0 L1983.8 1174.5 L1983.9 1173.0 L1984.3 1171.5 L1984.5 1170.0 L1984.4 1168.5 L1984.7 1167.0 L1984.9 1165.5 L1985.0 1164.0 L1985.2 1162.5 L1985.6 1160.9 L1985.8 1159.4 L1985.8 1157.8 L1986.3 1156.3 L1986.3 1154.8 L1986.6 1153.2 L1986.8 1151.7 L1987.3 1150.2 L1987.4 1148.6 L1987.7 1147.1 L1987.9 1145.6 L1988.0 1144.0 L1988.7 1142.5 L1989.0 1140.8 L1989.3 1139.2 L1989.4 1137.6 L1989.7 1135.9 L1990.5 1134.4 L1991.0 1132.9 L1991.4 1131.3 L1991.5 1129.6 L1992.0 1128.0 L1993.5 1126.8 L1995.0 1125.5 L1996.5 1126.7 L1996.6 1128.7 L1998.0 1130.0 L1998.4 1131.6 L1998.9 1133.2 L1999.0 1134.8 L1999.3 1136.4 L1999.2 1138.1 L1999.5 1139.7 L2000.3 1141.2 L2000.5 1142.8 L2000.4 1144.4 L2001.0 1146.0 L2001.5 1147.5 L2001.8 1149.0 L2002.4 1150.4 L2002.7 1152.0 L2003.0 1153.5 L2003.3 1155.0 L2003.3 1156.6 L2004.0 1158.0 L2004.8 1159.6 L2004.6 1161.4 L2005.5 1163.0 L2005.7 1164.8 L2006.4 1166.4 L2007.0 1168.0 L2008.0 1168.0 L2009.9 1168.8 L2010.3 1171.1 L2012.0 1172.0 L2013.5 1172.4 L2015.0 1172.5 L2016.4 1171.2 L2016.7 1169.3 L2018.0 1168.0 L2019.6 1167.1 L2020.0 1165.4 L2021.0 1164.0 L2022.7 1163.6 L2024.0 1162.5 L2024.6 1164.0 L2026.7 1164.2 L2027.0 1166.0 L2027.9 1167.4 L2029.2 1168.5 L2030.0 1170.0 L2032.3 1170.4 L2034.0 1172.0 L2036.0 1172.6 L2036.6 1174.7 L2038.0 1176.0 L2039.0 1177.6 L2040.8 1178.5 L2042.0 1180.0 L2044.5 1180.0 L2046.0 1182.0 L2046.6 1183.6 L2046.9 1185.3 L2048.1 1186.6 L2049.0 1188.0 L2049.4 1189.7 L2050.6 1190.9 L2050.7 1192.8 L2052.0 1194.0 L2054.2 1194.6 L2056.0 1196.0 L2058.1 1196.7 L2060.0 1195.5 L2061.9 1194.3 L2064.0 1195.0 L2064.6 1193.6 L2065.2 1192.2 L2066.0 1190.9 L2066.9 1189.6 L2067.0 1188.0 L2067.2 1186.5 L2067.3 1185.0 L2067.7 1183.5 L2068.0 1182.0 L2068.4 1180.5 L2068.6 1179.0 L2068.8 1177.5 L2069.0 1176.0 L2069.5 1174.3 L2069.7 1172.6 L2070.6 1171.1 L2071.0 1169.4 L2071.4 1167.7 L2071.6 1166.0 L2074.0 1165.5 L2074.6 1167.3 L2076.0 1168.5 L2077.0 1170.0 L2077.1 1171.8 L2077.8 1173.4 L2078.2 1175.1 L2078.9 1176.7 L2079.2 1178.4 L2080.0 1180.0 L2080.5 1181.5 L2081.2 1182.9 L2082.1 1184.2 L2083.0 1185.5 L2083.3 1183.7 L2085.2 1183.3 L2086.0 1182.0 L2087.4 1181.0 L2089.0 1181.5 L2090.9 1182.2 L2092.0 1184.0 L2092.7 1185.4 L2093.2 1186.9 L2094.5 1187.8 L2096.0 1188.5 L2097.3 1187.7 L2097.3 1185.6 L2099.5 1185.6 L2100.0 1184.0 L2101.4 1181.7 L2104.0 1182.0 L2105.7 1180.8 L2107.3 1181.3 L2109.0 1182.0 L2110.9 1180.9 L2113.0 1180.0 L2113.9 1178.5 L2113.7 1176.6 L2115.1 1175.3 L2115.0 1173.4 L2116.0 1172.0 L2118.1 1172.2 L2120.0 1171.5 L2122.1 1171.2 L2124.0 1172.0 L2125.6 1171.4 L2127.0 1172.5 L2128.7 1171.8 L2130.0 1173.0 L2132.2 1173.4 L2134.0 1172.0 L2134.9 1170.0 L2137.0 1170.5 L2138.7 1171.5 L2139.0 1173.5 L2140.0 1175.0 L2142.0 1175.1 L2142.5 1177.3 L2144.0 1178.0 L2145.4 1179.4 L2147.0 1180.5 L2149.0 1180.0"/><use href="#crv" y="-1.5"/><use href="#crv" y="1.5"/></g>
<text transform="translate(416.1 1141.0) scale(0.935 1)" style="font-family:'Liberation Sans',Arial,sans-serif;font-size:64px">O</text>
<text x="468.0" y="1058.5" style="font-family:'Liberation Sans',Arial,sans-serif;font-size:64px">I</text>
<text x="660.0" y="1069.8" style="font-family:'Liberation Sans',Arial,sans-serif;font-size:64px">M</text>
<text x="727.0" y="1088.5" style="font-family:'Liberation Sans',Arial,sans-serif;font-size:64px">I</text>
<text x="785.0" y="1040.5" style="font-family:'Liberation Sans',Arial,sans-serif;font-size:64px">I</text>
<text transform="translate(806.1 850.5) scale(0.935 1)" style="font-family:'Liberation Sans',Arial,sans-serif;font-size:64px">Q</text>
<text transform="translate(843.2 1048.5) scale(0.92 1)" style="font-family:'Liberation Sans',Arial,sans-serif;font-size:64px">F</text>
<text transform="translate(869.1 981.5) scale(0.95 1)" style="font-family:'Liberation Sans',Arial,sans-serif;font-size:64px">C</text>
<text transform="translate(910.2 1012.5) scale(0.92 1)" style="font-family:'Liberation Sans',Arial,sans-serif;font-size:64px">F</text>
<text x="945.5" y="957.5" style="font-family:'Liberation Sans',Arial,sans-serif;font-size:64px">A</text>
<text transform="translate(860.6 1156.0) scale(0.97 1)" style="font-family:'Liberation Sans',Arial,sans-serif;font-size:64px">non</text>
<text transform="translate(977.1 201.5) scale(0.935 1)" style="font-family:'Liberation Sans',Arial,sans-serif;font-size:64px">Q</text>
<text x="968.0" y="873.5" style="font-family:'Liberation Sans',Arial,sans-serif;font-size:64px">M</text>
<text transform="translate(1025.2 1036.5) scale(0.92 1)" style="font-family:'Liberation Sans',Arial,sans-serif;font-size:64px">F</text>
<text transform="translate(1065.2 1006.5) scale(0.95 1)" style="font-family:'Liberation Sans',Arial,sans-serif;font-size:64px">C</text>
<text x="1090.5" y="1103.5" style="font-family:'Liberation Sans',Arial,sans-serif;font-size:64px">M</text>
<text x="1127.0" y="1066.5" style="font-family:'Liberation Sans',Arial,sans-serif;font-size:64px">A</text>
<text transform="translate(1148.1 1118.5) scale(0.935 1)" style="font-family:'Liberation Sans',Arial,sans-serif;font-size:64px">O</text>
<text x="1176.0" y="1061.5" style="font-family:'Liberation Sans',Arial,sans-serif;font-size:64px">M</text>
<text x="1242.0" y="1032.5" style="font-family:'Liberation Sans',Arial,sans-serif;font-size:64px">M</text>
<text transform="translate(1279.6 1079.0) scale(0.935 1)" style="font-family:'Liberation Sans',Arial,sans-serif;font-size:64px">Q</text>
<text transform="translate(1345.6 1016.0) scale(0.935 1)" style="font-family:'Liberation Sans',Arial,sans-serif;font-size:64px">Q</text>
<text x="1401.0" y="1021.5" style="font-family:'Liberation Sans',Arial,sans-serif;font-size:64px">M</text>
<text transform="translate(1456.6 1035.0) scale(0.935 1)" style="font-family:'Liberation Sans',Arial,sans-serif;font-size:64px">Q</text>
<text x="1356.0" y="1089.5" style="font-family:'Liberation Sans',Arial,sans-serif;font-size:64px">M</text>
<text x="1403.0" y="1081.5" style="font-family:'Liberation Sans',Arial,sans-serif;font-size:64px">A</text>
<text transform="translate(1385.1 1146.0) scale(0.935 1)" style="font-family:'Liberation Sans',Arial,sans-serif;font-size:64px">Q</text>
<text x="1454.0" y="1104.5" style="font-family:'Liberation Sans',Arial,sans-serif;font-size:64px">M</text>
<text transform="translate(1557.6 1122.5) scale(0.935 1)" style="font-family:'Liberation Sans',Arial,sans-serif;font-size:64px">Q</text>
<text transform="translate(1639.7 1136.5) scale(0.95 1)" style="font-family:'Liberation Sans',Arial,sans-serif;font-size:64px">C</text>
<text x="1668.0" y="1083.5" style="font-family:'Liberation Sans',Arial,sans-serif;font-size:64px">M</text>
<text transform="translate(1682.6 1015.0) scale(0.935 1)" style="font-family:'Liberation Sans',Arial,sans-serif;font-size:64px">Q</text>
<text x="1789.0" y="1149.5" style="font-family:'Liberation Sans',Arial,sans-serif;font-size:64px">M</text>
<text x="1845.0" y="1132.5" style="font-family:'Liberation Sans',Arial,sans-serif;font-size:64px">I</text>
<text transform="translate(1819.6 1061.0) scale(0.935 1)" style="font-family:'Liberation Sans',Arial,sans-serif;font-size:64px">Q</text>
<text x="1912.0" y="1145.5" style="font-family:'Liberation Sans',Arial,sans-serif;font-size:64px">M</text>
<text transform="translate(1975.6 1088.0) scale(0.935 1)" style="font-family:'Liberation Sans',Arial,sans-serif;font-size:64px">Q</text>
<text x="2016.0" y="1145.5" style="font-family:'Liberation Sans',Arial,sans-serif;font-size:64px">M</text>
<text transform="translate(2061.1 1153.0) scale(0.935 1)" style="font-family:'Liberation Sans',Arial,sans-serif;font-size:64px">O</text>
<text x="2120.0" y="1146.5" style="font-family:'Liberation Sans',Arial,sans-serif;font-size:64px">M</text>
</svg></body></html>
